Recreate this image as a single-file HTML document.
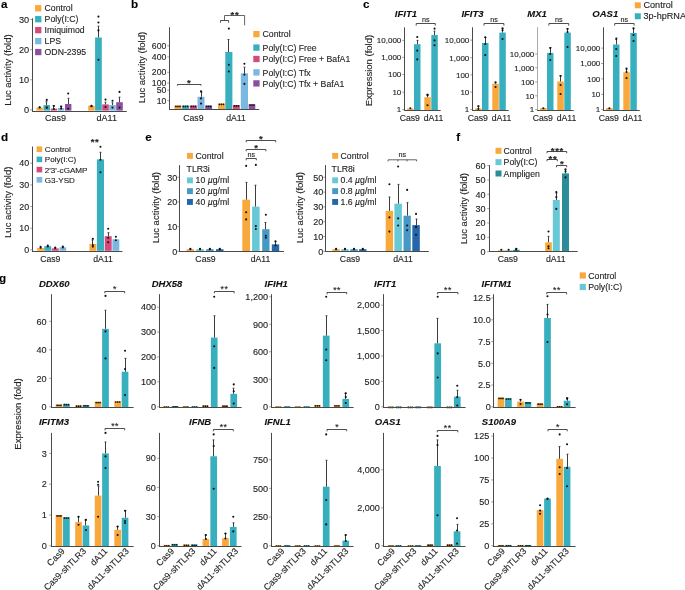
<!DOCTYPE html>
<html><head><meta charset="utf-8"><style>
html,body{margin:0;padding:0;background:#fff;}
svg{display:block;font-family:"Liberation Sans", sans-serif;will-change:transform;}
text{stroke:#222;stroke-width:0.12px;paint-order:stroke;}
</style></head><body>
<svg width="685" height="590" viewBox="0 0 685 590">
<rect width="685" height="590" fill="#fff"/>
<text x="1.10" y="8.00" font-size="11.7" text-anchor="start" font-weight="bold" font-style="normal" fill="#000">a</text>
<rect x="35.10" y="5.10" width="6.30" height="6.30" fill="#F9A93B"/>
<text x="44.60" y="11.40" font-size="8.7" text-anchor="start" font-weight="normal" font-style="normal" fill="#222">Control</text>
<rect x="35.10" y="16.05" width="6.30" height="6.30" fill="#38AFBF"/>
<text x="44.60" y="22.35" font-size="8.7" text-anchor="start" font-weight="normal" font-style="normal" fill="#222">Poly(I:C)</text>
<rect x="35.10" y="27.00" width="6.30" height="6.30" fill="#D44A7C"/>
<text x="44.60" y="33.30" font-size="8.7" text-anchor="start" font-weight="normal" font-style="normal" fill="#222">Imiquimod</text>
<rect x="35.10" y="37.95" width="6.30" height="6.30" fill="#7AB7E1"/>
<text x="44.60" y="44.25" font-size="8.7" text-anchor="start" font-weight="normal" font-style="normal" fill="#222">LPS</text>
<rect x="35.10" y="48.90" width="6.30" height="6.30" fill="#8A4F9F"/>
<text x="44.60" y="55.20" font-size="8.7" text-anchor="start" font-weight="normal" font-style="normal" fill="#222">ODN-2395</text>
<line x1="32.50" y1="18.30" x2="32.50" y2="112.00" stroke="#4a4a4a" stroke-width="1.0"/>
<line x1="30.20" y1="109.90" x2="32.00" y2="109.90" stroke="#888888" stroke-width="0.8"/>
<text x="29.20" y="113.19" font-size="9.2" text-anchor="end" font-weight="normal" font-style="normal" fill="#222">0</text>
<line x1="30.20" y1="79.77" x2="32.00" y2="79.77" stroke="#888888" stroke-width="0.8"/>
<text x="29.20" y="83.06" font-size="9.2" text-anchor="end" font-weight="normal" font-style="normal" fill="#222">10</text>
<line x1="30.20" y1="49.64" x2="32.00" y2="49.64" stroke="#888888" stroke-width="0.8"/>
<text x="29.20" y="52.93" font-size="9.2" text-anchor="end" font-weight="normal" font-style="normal" fill="#222">20</text>
<line x1="30.20" y1="19.51" x2="32.00" y2="19.51" stroke="#888888" stroke-width="0.8"/>
<text x="29.20" y="22.80" font-size="9.2" text-anchor="end" font-weight="normal" font-style="normal" fill="#222">30</text>
<text x="10.50" y="70.00" font-size="9.5" text-anchor="middle" font-weight="normal" font-style="normal" fill="#222" transform="rotate(-90 10.50 70.00)">Luc activity (fold)</text>
<rect x="36.40" y="107.60" width="6.50" height="3.00" fill="#F9A93B"/>
<circle cx="39.65" cy="107.30" r="1.05" fill="#111"/>
<circle cx="39.65" cy="107.50" r="1.05" fill="#111"/>
<rect x="43.50" y="105.00" width="6.50" height="5.60" fill="#38AFBF"/>
<line x1="46.50" y1="105.00" x2="46.50" y2="101.80" stroke="#333" stroke-width="0.95"/>
<line x1="45.60" y1="101.80" x2="47.40" y2="101.80" stroke="#333" stroke-width="0.95"/>
<circle cx="46.75" cy="99.90" r="1.05" fill="#111"/>
<circle cx="46.75" cy="107.40" r="1.05" fill="#111"/>
<circle cx="46.75" cy="107.70" r="1.05" fill="#111"/>
<rect x="50.70" y="108.60" width="6.40" height="2.00" fill="#D44A7C"/>
<line x1="53.50" y1="108.60" x2="53.50" y2="105.70" stroke="#333" stroke-width="0.95"/>
<line x1="52.60" y1="105.70" x2="54.40" y2="105.70" stroke="#333" stroke-width="0.95"/>
<circle cx="53.90" cy="106.00" r="1.05" fill="#111"/>
<circle cx="53.90" cy="109.00" r="1.05" fill="#111"/>
<rect x="57.80" y="108.00" width="6.50" height="2.60" fill="#7AB7E1"/>
<line x1="61.50" y1="108.00" x2="61.50" y2="106.30" stroke="#333" stroke-width="0.95"/>
<line x1="60.60" y1="106.30" x2="62.40" y2="106.30" stroke="#333" stroke-width="0.95"/>
<circle cx="61.05" cy="106.50" r="1.05" fill="#111"/>
<circle cx="61.05" cy="108.60" r="1.05" fill="#111"/>
<rect x="65.00" y="104.00" width="6.40" height="6.60" fill="#8A4F9F"/>
<line x1="68.50" y1="104.00" x2="68.50" y2="98.30" stroke="#333" stroke-width="0.95"/>
<line x1="67.60" y1="98.30" x2="69.40" y2="98.30" stroke="#333" stroke-width="0.95"/>
<circle cx="68.20" cy="93.50" r="1.05" fill="#111"/>
<circle cx="68.20" cy="108.80" r="1.05" fill="#111"/>
<rect x="88.20" y="105.70" width="6.50" height="4.90" fill="#F9A93B"/>
<circle cx="91.45" cy="105.90" r="1.05" fill="#111"/>
<circle cx="91.45" cy="106.20" r="1.05" fill="#111"/>
<rect x="95.10" y="37.50" width="6.70" height="73.10" fill="#38AFBF"/>
<line x1="98.50" y1="37.50" x2="98.50" y2="26.20" stroke="#333" stroke-width="0.95"/>
<line x1="97.60" y1="26.20" x2="99.40" y2="26.20" stroke="#333" stroke-width="0.95"/>
<circle cx="98.45" cy="16.60" r="1.05" fill="#111"/>
<circle cx="98.45" cy="22.50" r="1.05" fill="#111"/>
<circle cx="98.45" cy="30.40" r="1.05" fill="#111"/>
<circle cx="98.45" cy="59.70" r="1.05" fill="#111"/>
<rect x="102.20" y="104.40" width="6.60" height="6.20" fill="#D44A7C"/>
<line x1="105.50" y1="104.40" x2="105.50" y2="102.20" stroke="#333" stroke-width="0.95"/>
<line x1="104.60" y1="102.20" x2="106.40" y2="102.20" stroke="#333" stroke-width="0.95"/>
<circle cx="105.50" cy="99.60" r="1.05" fill="#111"/>
<circle cx="105.50" cy="107.00" r="1.05" fill="#111"/>
<rect x="109.20" y="105.00" width="6.60" height="5.60" fill="#7AB7E1"/>
<line x1="112.50" y1="105.00" x2="112.50" y2="102.80" stroke="#333" stroke-width="0.95"/>
<line x1="111.60" y1="102.80" x2="113.40" y2="102.80" stroke="#333" stroke-width="0.95"/>
<circle cx="112.50" cy="100.70" r="1.05" fill="#111"/>
<circle cx="112.50" cy="107.60" r="1.05" fill="#111"/>
<rect x="116.20" y="102.20" width="6.60" height="8.40" fill="#8A4F9F"/>
<line x1="119.50" y1="102.20" x2="119.50" y2="97.20" stroke="#333" stroke-width="0.95"/>
<line x1="118.60" y1="97.20" x2="120.40" y2="97.20" stroke="#333" stroke-width="0.95"/>
<circle cx="119.50" cy="91.90" r="1.05" fill="#111"/>
<circle cx="119.50" cy="107.60" r="1.05" fill="#111"/>
<line x1="32.00" y1="111.50" x2="126.80" y2="111.50" stroke="#4a4a4a" stroke-width="1.0"/>
<text x="55.60" y="121.20" font-size="9.0" text-anchor="middle" font-weight="normal" font-style="normal" fill="#222">Cas9</text>
<text x="106.80" y="121.20" font-size="9.0" text-anchor="middle" font-weight="normal" font-style="normal" fill="#222">dA11</text>
<text x="131.00" y="7.90" font-size="11.7" text-anchor="start" font-weight="bold" font-style="normal" fill="#000">b</text>
<line x1="169.50" y1="27.20" x2="169.50" y2="110.00" stroke="#4a4a4a" stroke-width="1.0"/>
<line x1="167.20" y1="100.60" x2="169.00" y2="100.60" stroke="#888888" stroke-width="0.8"/>
<text x="166.30" y="103.71" font-size="8.7" text-anchor="end" font-weight="normal" font-style="normal" fill="#222">10</text>
<line x1="167.20" y1="90.20" x2="169.00" y2="90.20" stroke="#888888" stroke-width="0.8"/>
<text x="166.30" y="93.31" font-size="8.7" text-anchor="end" font-weight="normal" font-style="normal" fill="#222">50</text>
<line x1="167.20" y1="83.00" x2="169.00" y2="83.00" stroke="#888888" stroke-width="0.8"/>
<text x="166.30" y="86.11" font-size="8.7" text-anchor="end" font-weight="normal" font-style="normal" fill="#222">100</text>
<line x1="167.20" y1="72.30" x2="169.00" y2="72.30" stroke="#888888" stroke-width="0.8"/>
<text x="166.30" y="75.41" font-size="8.7" text-anchor="end" font-weight="normal" font-style="normal" fill="#222">200</text>
<line x1="167.20" y1="57.00" x2="169.00" y2="57.00" stroke="#888888" stroke-width="0.8"/>
<text x="166.30" y="60.11" font-size="8.7" text-anchor="end" font-weight="normal" font-style="normal" fill="#222">400</text>
<line x1="167.20" y1="45.80" x2="169.00" y2="45.80" stroke="#888888" stroke-width="0.8"/>
<text x="166.30" y="48.91" font-size="8.7" text-anchor="end" font-weight="normal" font-style="normal" fill="#222">600</text>
<text x="145.00" y="67.50" font-size="9.5" text-anchor="middle" font-weight="normal" font-style="normal" fill="#222" transform="rotate(-90 145.00 67.50)">Luc activity (fold)</text>
<rect x="174.40" y="105.50" width="7.10" height="3.50" fill="#F9A93B"/>
<circle cx="175.92" cy="106.40" r="0.85" fill="#111"/>
<circle cx="177.95" cy="106.40" r="0.85" fill="#111"/>
<circle cx="179.97" cy="106.40" r="0.85" fill="#111"/>
<rect x="182.00" y="105.50" width="7.10" height="3.50" fill="#38AFBF"/>
<circle cx="183.53" cy="106.40" r="0.85" fill="#111"/>
<circle cx="185.55" cy="106.40" r="0.85" fill="#111"/>
<circle cx="187.58" cy="106.40" r="0.85" fill="#111"/>
<rect x="189.80" y="105.50" width="7.10" height="3.50" fill="#D44A7C"/>
<circle cx="191.32" cy="106.40" r="0.85" fill="#111"/>
<circle cx="193.35" cy="106.40" r="0.85" fill="#111"/>
<circle cx="195.38" cy="106.40" r="0.85" fill="#111"/>
<rect x="197.50" y="96.80" width="7.00" height="12.20" fill="#7AB7E1"/>
<line x1="201.50" y1="96.80" x2="201.50" y2="92.00" stroke="#333" stroke-width="0.95"/>
<line x1="200.60" y1="92.00" x2="202.40" y2="92.00" stroke="#333" stroke-width="0.95"/>
<circle cx="201.00" cy="91.40" r="1.05" fill="#111"/>
<circle cx="201.00" cy="98.40" r="1.05" fill="#111"/>
<circle cx="201.00" cy="103.60" r="1.05" fill="#111"/>
<rect x="205.20" y="105.50" width="6.90" height="3.50" fill="#8A4F9F"/>
<circle cx="206.68" cy="106.40" r="0.85" fill="#111"/>
<circle cx="208.65" cy="106.40" r="0.85" fill="#111"/>
<circle cx="210.62" cy="106.40" r="0.85" fill="#111"/>
<rect x="218.00" y="103.40" width="6.90" height="5.60" fill="#F9A93B"/>
<circle cx="219.48" cy="104.30" r="0.85" fill="#111"/>
<circle cx="221.45" cy="104.30" r="0.85" fill="#111"/>
<circle cx="223.42" cy="104.30" r="0.85" fill="#111"/>
<rect x="225.30" y="52.00" width="7.10" height="57.00" fill="#38AFBF"/>
<line x1="228.50" y1="52.00" x2="228.50" y2="39.50" stroke="#333" stroke-width="0.95"/>
<line x1="227.60" y1="39.50" x2="229.40" y2="39.50" stroke="#333" stroke-width="0.95"/>
<circle cx="228.85" cy="28.60" r="1.05" fill="#111"/>
<circle cx="228.85" cy="64.80" r="1.05" fill="#111"/>
<circle cx="228.85" cy="71.50" r="1.05" fill="#111"/>
<rect x="233.00" y="105.00" width="6.80" height="4.00" fill="#D44A7C"/>
<circle cx="234.46" cy="105.90" r="0.85" fill="#111"/>
<circle cx="236.40" cy="105.90" r="0.85" fill="#111"/>
<circle cx="238.34" cy="105.90" r="0.85" fill="#111"/>
<rect x="240.80" y="73.30" width="7.20" height="35.70" fill="#7AB7E1"/>
<line x1="244.50" y1="73.30" x2="244.50" y2="67.20" stroke="#333" stroke-width="0.95"/>
<line x1="243.60" y1="67.20" x2="245.40" y2="67.20" stroke="#333" stroke-width="0.95"/>
<circle cx="244.40" cy="63.70" r="1.05" fill="#111"/>
<circle cx="244.40" cy="74.60" r="1.05" fill="#111"/>
<circle cx="244.40" cy="83.90" r="1.05" fill="#111"/>
<rect x="248.60" y="104.20" width="6.70" height="4.80" fill="#8A4F9F"/>
<circle cx="250.03" cy="105.10" r="0.85" fill="#111"/>
<circle cx="251.95" cy="105.10" r="0.85" fill="#111"/>
<circle cx="253.87" cy="105.10" r="0.85" fill="#111"/>
<line x1="169.00" y1="109.50" x2="259.20" y2="109.50" stroke="#4a4a4a" stroke-width="1.0"/>
<text x="193.40" y="121.40" font-size="8.7" text-anchor="middle" font-weight="normal" font-style="normal" fill="#222">Cas9</text>
<text x="236.00" y="121.40" font-size="8.7" text-anchor="middle" font-weight="normal" font-style="normal" fill="#222">dA11</text>
<polyline points="177.40,85.70 177.40,84.50 201.00,84.50 201.00,85.70" fill="none" stroke="#3a3a3a" stroke-width="0.9"/>
<text x="188.80" y="86.34" font-size="9.5" text-anchor="middle" font-weight="bold" font-style="normal" fill="#1a1a1a">*</text>
<polyline points="220.50,22.70 220.50,20.50 228.60,20.50 228.60,22.70" fill="none" stroke="#3a3a3a" stroke-width="0.9"/>
<polyline points="224.50,20.30 224.50,15.50 244.60,15.50 244.60,25.30" fill="none" stroke="#333" stroke-width="0.75"/>
<text x="234.90" y="18.24" font-size="9.5" text-anchor="middle" font-weight="bold" font-style="normal" fill="#1a1a1a" letter-spacing="0.6">**</text>
<rect x="253.30" y="30.95" width="6.30" height="6.30" fill="#F9A93B"/>
<text x="262.60" y="37.20" font-size="8.7" text-anchor="start" font-weight="normal" font-style="normal" fill="#222">Control</text>
<rect x="253.30" y="44.45" width="6.30" height="6.30" fill="#38AFBF"/>
<text x="262.60" y="50.70" font-size="8.7" text-anchor="start" font-weight="normal" font-style="normal" fill="#222">Poly(I:C) Free</text>
<rect x="253.30" y="55.85" width="6.30" height="6.30" fill="#D44A7C"/>
<text x="262.60" y="62.10" font-size="8.7" text-anchor="start" font-weight="normal" font-style="normal" fill="#222">Poly(I:C) Free + BafA1</text>
<rect x="253.30" y="69.25" width="6.30" height="6.30" fill="#7AB7E1"/>
<text x="262.60" y="75.50" font-size="8.7" text-anchor="start" font-weight="normal" font-style="normal" fill="#222">Poly(I:C) Tfx</text>
<rect x="253.30" y="80.25" width="6.30" height="6.30" fill="#8A4F9F"/>
<text x="262.60" y="86.50" font-size="8.7" text-anchor="start" font-weight="normal" font-style="normal" fill="#222">Poly(I:C) Tfx + BafA1</text>
<text x="362.90" y="7.90" font-size="11.7" text-anchor="start" font-weight="bold" font-style="normal" fill="#000">c</text>
<text x="372.10" y="70.50" font-size="9.5" text-anchor="middle" font-weight="normal" font-style="normal" fill="#222" transform="rotate(-90 372.10 70.50)">Expression (fold)</text>
<line x1="404.50" y1="27.30" x2="404.50" y2="111.00" stroke="#4a4a4a" stroke-width="1.0"/>
<line x1="402.20" y1="109.50" x2="404.00" y2="109.50" stroke="#888888" stroke-width="0.8"/>
<text x="401.30" y="112.36" font-size="8.0" text-anchor="end" font-weight="normal" font-style="normal" fill="#222">1</text>
<line x1="402.20" y1="92.20" x2="404.00" y2="92.20" stroke="#888888" stroke-width="0.8"/>
<text x="401.30" y="95.06" font-size="8.0" text-anchor="end" font-weight="normal" font-style="normal" fill="#222">10</text>
<line x1="402.20" y1="74.50" x2="404.00" y2="74.50" stroke="#888888" stroke-width="0.8"/>
<text x="401.30" y="77.36" font-size="8.0" text-anchor="end" font-weight="normal" font-style="normal" fill="#222">100</text>
<line x1="402.20" y1="57.40" x2="404.00" y2="57.40" stroke="#888888" stroke-width="0.8"/>
<text x="401.30" y="60.26" font-size="8.0" text-anchor="end" font-weight="normal" font-style="normal" fill="#222">1,000</text>
<line x1="402.20" y1="40.40" x2="404.00" y2="40.40" stroke="#888888" stroke-width="0.8"/>
<text x="401.30" y="43.26" font-size="8.0" text-anchor="end" font-weight="normal" font-style="normal" fill="#222">10,000</text>
<rect x="407.10" y="108.60" width="6.50" height="1.60" fill="#F9A93B"/>
<circle cx="410.35" cy="108.20" r="1.05" fill="#111"/>
<rect x="414.00" y="44.20" width="6.50" height="66.00" fill="#38AFBF"/>
<line x1="417.50" y1="44.20" x2="417.50" y2="40.40" stroke="#333" stroke-width="0.95"/>
<line x1="416.60" y1="40.40" x2="418.40" y2="40.40" stroke="#333" stroke-width="0.95"/>
<circle cx="417.25" cy="37.00" r="1.05" fill="#111"/>
<circle cx="417.25" cy="50.60" r="1.05" fill="#111"/>
<circle cx="417.25" cy="59.40" r="1.05" fill="#111"/>
<rect x="424.30" y="97.20" width="6.50" height="13.00" fill="#F9A93B"/>
<line x1="427.50" y1="97.20" x2="427.50" y2="94.30" stroke="#333" stroke-width="0.95"/>
<line x1="426.60" y1="94.30" x2="428.40" y2="94.30" stroke="#333" stroke-width="0.95"/>
<circle cx="427.55" cy="94.70" r="1.05" fill="#111"/>
<circle cx="427.55" cy="95.30" r="1.05" fill="#111"/>
<circle cx="427.55" cy="105.20" r="1.05" fill="#111"/>
<rect x="431.30" y="35.00" width="6.50" height="75.20" fill="#38AFBF"/>
<line x1="434.50" y1="35.00" x2="434.50" y2="31.10" stroke="#333" stroke-width="0.95"/>
<line x1="433.60" y1="31.10" x2="435.40" y2="31.10" stroke="#333" stroke-width="0.95"/>
<circle cx="434.55" cy="28.60" r="1.05" fill="#111"/>
<circle cx="434.55" cy="40.40" r="1.05" fill="#111"/>
<circle cx="434.55" cy="45.20" r="1.05" fill="#111"/>
<line x1="404.00" y1="110.50" x2="440.70" y2="110.50" stroke="#4a4a4a" stroke-width="1.0"/>
<text x="405.90" y="17.20" font-size="9.5" text-anchor="middle" font-weight="bold" font-style="italic" fill="#111">IFIT1</text>
<polyline points="416.20,25.60 416.20,23.50 435.30,23.50 435.30,25.60" fill="none" stroke="#3a3a3a" stroke-width="0.9"/>
<text x="425.75" y="22.10" font-size="7.2" text-anchor="middle" font-weight="normal" font-style="normal" fill="#222">ns</text>
<text x="409.80" y="121.40" font-size="8.7" text-anchor="middle" font-weight="normal" font-style="normal" fill="#222">Cas9</text>
<text x="433.50" y="121.40" font-size="8.7" text-anchor="middle" font-weight="normal" font-style="normal" fill="#222">dA11</text>
<line x1="472.50" y1="27.30" x2="472.50" y2="111.00" stroke="#4a4a4a" stroke-width="1.0"/>
<line x1="470.20" y1="109.50" x2="472.00" y2="109.50" stroke="#888888" stroke-width="0.8"/>
<text x="469.30" y="112.36" font-size="8.0" text-anchor="end" font-weight="normal" font-style="normal" fill="#222">1</text>
<line x1="470.20" y1="92.10" x2="472.00" y2="92.10" stroke="#888888" stroke-width="0.8"/>
<text x="469.30" y="94.96" font-size="8.0" text-anchor="end" font-weight="normal" font-style="normal" fill="#222">10</text>
<line x1="470.20" y1="74.90" x2="472.00" y2="74.90" stroke="#888888" stroke-width="0.8"/>
<text x="469.30" y="77.76" font-size="8.0" text-anchor="end" font-weight="normal" font-style="normal" fill="#222">100</text>
<line x1="470.20" y1="57.70" x2="472.00" y2="57.70" stroke="#888888" stroke-width="0.8"/>
<text x="469.30" y="60.56" font-size="8.0" text-anchor="end" font-weight="normal" font-style="normal" fill="#222">1,000</text>
<line x1="470.20" y1="40.10" x2="472.00" y2="40.10" stroke="#888888" stroke-width="0.8"/>
<text x="469.30" y="42.96" font-size="8.0" text-anchor="end" font-weight="normal" font-style="normal" fill="#222">10,000</text>
<rect x="475.10" y="108.40" width="6.50" height="1.80" fill="#F9A93B"/>
<line x1="478.50" y1="108.40" x2="478.50" y2="106.00" stroke="#333" stroke-width="0.95"/>
<line x1="477.60" y1="106.00" x2="479.40" y2="106.00" stroke="#333" stroke-width="0.95"/>
<circle cx="478.35" cy="106.20" r="1.05" fill="#111"/>
<circle cx="478.35" cy="109.00" r="1.05" fill="#111"/>
<rect x="482.00" y="43.00" width="6.50" height="67.20" fill="#38AFBF"/>
<line x1="485.50" y1="43.00" x2="485.50" y2="37.50" stroke="#333" stroke-width="0.95"/>
<line x1="484.60" y1="37.50" x2="486.40" y2="37.50" stroke="#333" stroke-width="0.95"/>
<circle cx="485.25" cy="37.20" r="1.05" fill="#111"/>
<circle cx="485.25" cy="44.00" r="1.05" fill="#111"/>
<circle cx="485.25" cy="55.00" r="1.05" fill="#111"/>
<rect x="492.30" y="83.70" width="6.50" height="26.50" fill="#F9A93B"/>
<line x1="495.50" y1="83.70" x2="495.50" y2="82.00" stroke="#333" stroke-width="0.95"/>
<line x1="494.60" y1="82.00" x2="496.40" y2="82.00" stroke="#333" stroke-width="0.95"/>
<circle cx="495.55" cy="82.50" r="1.05" fill="#111"/>
<circle cx="495.55" cy="87.00" r="1.05" fill="#111"/>
<rect x="499.30" y="32.60" width="6.50" height="77.60" fill="#38AFBF"/>
<line x1="502.50" y1="32.60" x2="502.50" y2="28.00" stroke="#333" stroke-width="0.95"/>
<line x1="501.60" y1="28.00" x2="503.40" y2="28.00" stroke="#333" stroke-width="0.95"/>
<circle cx="502.55" cy="28.50" r="1.05" fill="#111"/>
<circle cx="502.55" cy="30.20" r="1.05" fill="#111"/>
<circle cx="502.55" cy="39.00" r="1.05" fill="#111"/>
<line x1="472.00" y1="110.50" x2="508.70" y2="110.50" stroke="#4a4a4a" stroke-width="1.0"/>
<text x="472.50" y="17.20" font-size="9.5" text-anchor="middle" font-weight="bold" font-style="italic" fill="#111">IFIT3</text>
<polyline points="484.00,25.60 484.00,23.50 503.90,23.50 503.90,25.60" fill="none" stroke="#3a3a3a" stroke-width="0.9"/>
<text x="493.95" y="22.10" font-size="7.2" text-anchor="middle" font-weight="normal" font-style="normal" fill="#222">ns</text>
<text x="477.80" y="121.40" font-size="8.7" text-anchor="middle" font-weight="normal" font-style="normal" fill="#222">Cas9</text>
<text x="501.50" y="121.40" font-size="8.7" text-anchor="middle" font-weight="normal" font-style="normal" fill="#222">dA11</text>
<line x1="537.50" y1="27.30" x2="537.50" y2="111.00" stroke="#aaaaaa" stroke-width="1.0"/>
<line x1="535.20" y1="109.50" x2="537.00" y2="109.50" stroke="#888888" stroke-width="0.8"/>
<text x="534.30" y="112.36" font-size="8.0" text-anchor="end" font-weight="normal" font-style="normal" fill="#222">1</text>
<line x1="535.20" y1="95.80" x2="537.00" y2="95.80" stroke="#888888" stroke-width="0.8"/>
<text x="534.30" y="98.66" font-size="8.0" text-anchor="end" font-weight="normal" font-style="normal" fill="#222">10</text>
<line x1="535.20" y1="82.00" x2="537.00" y2="82.00" stroke="#888888" stroke-width="0.8"/>
<text x="534.30" y="84.86" font-size="8.0" text-anchor="end" font-weight="normal" font-style="normal" fill="#222">100</text>
<line x1="535.20" y1="67.80" x2="537.00" y2="67.80" stroke="#888888" stroke-width="0.8"/>
<text x="534.30" y="70.66" font-size="8.0" text-anchor="end" font-weight="normal" font-style="normal" fill="#222">1,000</text>
<line x1="535.20" y1="54.00" x2="537.00" y2="54.00" stroke="#888888" stroke-width="0.8"/>
<text x="534.30" y="56.86" font-size="8.0" text-anchor="end" font-weight="normal" font-style="normal" fill="#222">10,000</text>
<rect x="540.10" y="108.00" width="6.50" height="2.20" fill="#F9A93B"/>
<circle cx="543.35" cy="108.20" r="1.05" fill="#111"/>
<rect x="547.00" y="52.90" width="6.50" height="57.30" fill="#38AFBF"/>
<line x1="550.50" y1="52.90" x2="550.50" y2="47.50" stroke="#333" stroke-width="0.95"/>
<line x1="549.60" y1="47.50" x2="551.40" y2="47.50" stroke="#333" stroke-width="0.95"/>
<circle cx="550.25" cy="48.00" r="1.05" fill="#111"/>
<circle cx="550.25" cy="54.00" r="1.05" fill="#111"/>
<circle cx="550.25" cy="60.00" r="1.05" fill="#111"/>
<rect x="557.30" y="81.50" width="6.50" height="28.70" fill="#F9A93B"/>
<line x1="560.50" y1="81.50" x2="560.50" y2="75.50" stroke="#333" stroke-width="0.95"/>
<line x1="559.60" y1="75.50" x2="561.40" y2="75.50" stroke="#333" stroke-width="0.95"/>
<circle cx="560.55" cy="76.00" r="1.05" fill="#111"/>
<circle cx="560.55" cy="85.00" r="1.05" fill="#111"/>
<circle cx="560.55" cy="94.00" r="1.05" fill="#111"/>
<rect x="564.30" y="32.60" width="6.50" height="77.60" fill="#38AFBF"/>
<line x1="567.50" y1="32.60" x2="567.50" y2="28.50" stroke="#333" stroke-width="0.95"/>
<line x1="566.60" y1="28.50" x2="568.40" y2="28.50" stroke="#333" stroke-width="0.95"/>
<circle cx="567.55" cy="29.00" r="1.05" fill="#111"/>
<circle cx="567.55" cy="32.00" r="1.05" fill="#111"/>
<circle cx="567.55" cy="47.00" r="1.05" fill="#111"/>
<line x1="537.00" y1="110.50" x2="573.70" y2="110.50" stroke="#4a4a4a" stroke-width="1.0"/>
<text x="537.00" y="17.20" font-size="9.5" text-anchor="middle" font-weight="bold" font-style="italic" fill="#111">MX1</text>
<polyline points="548.90,25.60 548.90,23.50 568.70,23.50 568.70,25.60" fill="none" stroke="#3a3a3a" stroke-width="0.9"/>
<text x="558.80" y="22.10" font-size="7.2" text-anchor="middle" font-weight="normal" font-style="normal" fill="#222">ns</text>
<text x="542.80" y="121.40" font-size="8.7" text-anchor="middle" font-weight="normal" font-style="normal" fill="#222">Cas9</text>
<text x="566.50" y="121.40" font-size="8.7" text-anchor="middle" font-weight="normal" font-style="normal" fill="#222">dA11</text>
<line x1="603.50" y1="27.30" x2="603.50" y2="111.00" stroke="#4a4a4a" stroke-width="1.0"/>
<line x1="601.20" y1="109.60" x2="603.00" y2="109.60" stroke="#888888" stroke-width="0.8"/>
<text x="600.30" y="112.46" font-size="8.0" text-anchor="end" font-weight="normal" font-style="normal" fill="#222">1</text>
<line x1="601.20" y1="94.40" x2="603.00" y2="94.40" stroke="#888888" stroke-width="0.8"/>
<text x="600.30" y="97.26" font-size="8.0" text-anchor="end" font-weight="normal" font-style="normal" fill="#222">10</text>
<line x1="601.20" y1="78.90" x2="603.00" y2="78.90" stroke="#888888" stroke-width="0.8"/>
<text x="600.30" y="81.76" font-size="8.0" text-anchor="end" font-weight="normal" font-style="normal" fill="#222">100</text>
<line x1="601.20" y1="63.50" x2="603.00" y2="63.50" stroke="#888888" stroke-width="0.8"/>
<text x="600.30" y="66.36" font-size="8.0" text-anchor="end" font-weight="normal" font-style="normal" fill="#222">1,000</text>
<line x1="601.20" y1="48.10" x2="603.00" y2="48.10" stroke="#888888" stroke-width="0.8"/>
<text x="600.30" y="50.96" font-size="8.0" text-anchor="end" font-weight="normal" font-style="normal" fill="#222">10,000</text>
<rect x="606.10" y="108.00" width="6.50" height="2.20" fill="#F9A93B"/>
<circle cx="609.35" cy="108.20" r="1.05" fill="#111"/>
<rect x="613.00" y="44.50" width="6.50" height="65.70" fill="#38AFBF"/>
<line x1="616.50" y1="44.50" x2="616.50" y2="38.00" stroke="#333" stroke-width="0.95"/>
<line x1="615.60" y1="38.00" x2="617.40" y2="38.00" stroke="#333" stroke-width="0.95"/>
<circle cx="616.25" cy="39.00" r="1.05" fill="#111"/>
<circle cx="616.25" cy="49.00" r="1.05" fill="#111"/>
<circle cx="616.25" cy="56.00" r="1.05" fill="#111"/>
<rect x="623.30" y="72.30" width="6.50" height="37.90" fill="#F9A93B"/>
<line x1="626.50" y1="72.30" x2="626.50" y2="68.00" stroke="#333" stroke-width="0.95"/>
<line x1="625.60" y1="68.00" x2="627.40" y2="68.00" stroke="#333" stroke-width="0.95"/>
<circle cx="626.55" cy="69.00" r="1.05" fill="#111"/>
<circle cx="626.55" cy="72.00" r="1.05" fill="#111"/>
<circle cx="626.55" cy="78.00" r="1.05" fill="#111"/>
<rect x="630.30" y="33.00" width="6.50" height="77.20" fill="#38AFBF"/>
<line x1="633.50" y1="33.00" x2="633.50" y2="28.00" stroke="#333" stroke-width="0.95"/>
<line x1="632.60" y1="28.00" x2="634.40" y2="28.00" stroke="#333" stroke-width="0.95"/>
<circle cx="633.55" cy="28.50" r="1.05" fill="#111"/>
<circle cx="633.55" cy="35.00" r="1.05" fill="#111"/>
<circle cx="633.55" cy="41.00" r="1.05" fill="#111"/>
<line x1="603.00" y1="110.50" x2="639.70" y2="110.50" stroke="#4a4a4a" stroke-width="1.0"/>
<text x="605.30" y="17.20" font-size="9.5" text-anchor="middle" font-weight="bold" font-style="italic" fill="#111">OAS1</text>
<polyline points="614.70,25.60 614.70,23.50 634.10,23.50 634.10,25.60" fill="none" stroke="#3a3a3a" stroke-width="0.9"/>
<text x="624.40" y="22.10" font-size="7.2" text-anchor="middle" font-weight="normal" font-style="normal" fill="#222">ns</text>
<text x="608.80" y="121.40" font-size="8.7" text-anchor="middle" font-weight="normal" font-style="normal" fill="#222">Cas9</text>
<text x="632.50" y="121.40" font-size="8.7" text-anchor="middle" font-weight="normal" font-style="normal" fill="#222">dA11</text>
<rect x="634.80" y="2.30" width="6.00" height="6.00" fill="#F9A93B"/>
<text x="643.50" y="8.40" font-size="9.1" text-anchor="start" font-weight="normal" font-style="normal" fill="#222">Control</text>
<rect x="634.80" y="13.30" width="6.00" height="6.00" fill="#38AFBF"/>
<text x="643.50" y="19.40" font-size="9.1" text-anchor="start" font-weight="normal" font-style="normal" fill="#222">3p-hpRNA</text>
<text x="1.00" y="140.70" font-size="11.7" text-anchor="start" font-weight="bold" font-style="normal" fill="#000">d</text>
<line x1="32.50" y1="146.50" x2="32.50" y2="252.00" stroke="#4a4a4a" stroke-width="1.0"/>
<line x1="30.20" y1="249.90" x2="32.00" y2="249.90" stroke="#888888" stroke-width="0.8"/>
<text x="29.20" y="253.09" font-size="8.9" text-anchor="end" font-weight="normal" font-style="normal" fill="#222">0</text>
<line x1="30.20" y1="228.22" x2="32.00" y2="228.22" stroke="#888888" stroke-width="0.8"/>
<text x="29.20" y="231.41" font-size="8.9" text-anchor="end" font-weight="normal" font-style="normal" fill="#222">10</text>
<line x1="30.20" y1="206.55" x2="32.00" y2="206.55" stroke="#888888" stroke-width="0.8"/>
<text x="29.20" y="209.74" font-size="8.9" text-anchor="end" font-weight="normal" font-style="normal" fill="#222">20</text>
<line x1="30.20" y1="184.88" x2="32.00" y2="184.88" stroke="#888888" stroke-width="0.8"/>
<text x="29.20" y="188.06" font-size="8.9" text-anchor="end" font-weight="normal" font-style="normal" fill="#222">30</text>
<line x1="30.20" y1="163.20" x2="32.00" y2="163.20" stroke="#888888" stroke-width="0.8"/>
<text x="29.20" y="166.39" font-size="8.9" text-anchor="end" font-weight="normal" font-style="normal" fill="#222">40</text>
<text x="10.70" y="202.30" font-size="9.5" text-anchor="middle" font-weight="normal" font-style="normal" fill="#222" transform="rotate(-90 10.70 202.30)">Luc activity (fold)</text>
<rect x="37.20" y="248.00" width="6.80" height="2.80" fill="#F9A93B"/>
<circle cx="40.60" cy="246.80" r="1.05" fill="#111"/>
<circle cx="40.60" cy="247.80" r="1.05" fill="#111"/>
<rect x="44.30" y="246.20" width="6.90" height="4.60" fill="#38AFBF"/>
<circle cx="47.75" cy="245.50" r="1.05" fill="#111"/>
<circle cx="47.75" cy="246.50" r="1.05" fill="#111"/>
<rect x="51.80" y="248.40" width="6.90" height="2.40" fill="#D44A7C"/>
<circle cx="55.25" cy="247.50" r="1.05" fill="#111"/>
<circle cx="55.25" cy="248.30" r="1.05" fill="#111"/>
<rect x="59.40" y="247.30" width="6.80" height="3.50" fill="#7AB7E1"/>
<circle cx="62.80" cy="246.50" r="1.05" fill="#111"/>
<circle cx="62.80" cy="247.50" r="1.05" fill="#111"/>
<rect x="89.40" y="244.00" width="6.90" height="6.80" fill="#F9A93B"/>
<line x1="92.50" y1="244.00" x2="92.50" y2="239.90" stroke="#333" stroke-width="0.95"/>
<line x1="91.60" y1="239.90" x2="93.40" y2="239.90" stroke="#333" stroke-width="0.95"/>
<circle cx="92.85" cy="238.80" r="1.05" fill="#111"/>
<circle cx="92.85" cy="245.00" r="1.05" fill="#111"/>
<circle cx="92.85" cy="246.60" r="1.05" fill="#111"/>
<rect x="96.90" y="159.40" width="7.10" height="91.40" fill="#38AFBF"/>
<line x1="100.50" y1="159.40" x2="100.50" y2="152.30" stroke="#333" stroke-width="0.95"/>
<line x1="99.60" y1="152.30" x2="101.40" y2="152.30" stroke="#333" stroke-width="0.95"/>
<circle cx="100.45" cy="146.80" r="1.05" fill="#111"/>
<circle cx="100.45" cy="159.80" r="1.05" fill="#111"/>
<circle cx="100.45" cy="172.30" r="1.05" fill="#111"/>
<rect x="104.70" y="236.20" width="7.00" height="14.60" fill="#D44A7C"/>
<line x1="108.50" y1="236.20" x2="108.50" y2="232.70" stroke="#333" stroke-width="0.95"/>
<line x1="107.60" y1="232.70" x2="109.40" y2="232.70" stroke="#333" stroke-width="0.95"/>
<circle cx="108.20" cy="228.70" r="1.05" fill="#111"/>
<circle cx="108.20" cy="237.80" r="1.05" fill="#111"/>
<circle cx="108.20" cy="242.30" r="1.05" fill="#111"/>
<rect x="112.40" y="239.30" width="6.90" height="11.50" fill="#7AB7E1"/>
<circle cx="115.85" cy="236.80" r="1.05" fill="#111"/>
<circle cx="115.85" cy="240.30" r="1.05" fill="#111"/>
<line x1="32.00" y1="251.50" x2="122.40" y2="251.50" stroke="#4a4a4a" stroke-width="1.0"/>
<text x="50.30" y="262.00" font-size="8.7" text-anchor="middle" font-weight="normal" font-style="normal" fill="#222">Cas9</text>
<text x="103.00" y="262.00" font-size="8.7" text-anchor="middle" font-weight="normal" font-style="normal" fill="#222">dA11</text>
<text x="95.10" y="145.04" font-size="9.5" text-anchor="middle" font-weight="bold" font-style="normal" fill="#1a1a1a" letter-spacing="0.6">**</text>
<rect x="36.60" y="146.40" width="5.60" height="5.60" fill="#F9A93B"/>
<text x="44.80" y="152.10" font-size="8.1" text-anchor="start" font-weight="normal" font-style="normal" fill="#222">Control</text>
<rect x="36.60" y="156.60" width="5.60" height="5.60" fill="#38AFBF"/>
<text x="44.80" y="162.30" font-size="8.1" text-anchor="start" font-weight="normal" font-style="normal" fill="#222">Poly(I:C)</text>
<rect x="36.60" y="166.80" width="5.60" height="5.60" fill="#D44A7C"/>
<text x="44.80" y="172.50" font-size="8.1" text-anchor="start" font-weight="normal" font-style="normal" fill="#222">2'3'-cGAMP</text>
<rect x="36.60" y="177.00" width="5.60" height="5.60" fill="#7AB7E1"/>
<text x="44.80" y="182.70" font-size="8.1" text-anchor="start" font-weight="normal" font-style="normal" fill="#222">G3-YSD</text>
<text x="145.20" y="140.50" font-size="11.7" text-anchor="start" font-weight="bold" font-style="normal" fill="#000">e</text>
<line x1="179.50" y1="165.10" x2="179.50" y2="252.00" stroke="#4a4a4a" stroke-width="1.0"/>
<line x1="177.20" y1="251.30" x2="179.00" y2="251.30" stroke="#888888" stroke-width="0.8"/>
<text x="177.20" y="254.52" font-size="9.0" text-anchor="end" font-weight="normal" font-style="normal" fill="#222">0</text>
<line x1="177.20" y1="226.63" x2="179.00" y2="226.63" stroke="#888888" stroke-width="0.8"/>
<text x="177.20" y="229.85" font-size="9.0" text-anchor="end" font-weight="normal" font-style="normal" fill="#222">10</text>
<line x1="177.20" y1="201.96" x2="179.00" y2="201.96" stroke="#888888" stroke-width="0.8"/>
<text x="177.20" y="205.18" font-size="9.0" text-anchor="end" font-weight="normal" font-style="normal" fill="#222">20</text>
<line x1="177.20" y1="177.29" x2="179.00" y2="177.29" stroke="#888888" stroke-width="0.8"/>
<text x="177.20" y="180.51" font-size="9.0" text-anchor="end" font-weight="normal" font-style="normal" fill="#222">30</text>
<text x="159.20" y="207.70" font-size="9.5" text-anchor="middle" font-weight="normal" font-style="normal" fill="#222" transform="rotate(-90 159.20 207.70)">Luc activity (fold)</text>
<rect x="186.60" y="249.20" width="7.50" height="1.80" fill="#F9A93B"/>
<circle cx="190.35" cy="248.70" r="1.05" fill="#111"/>
<circle cx="190.35" cy="249.20" r="1.05" fill="#111"/>
<rect x="196.30" y="249.20" width="7.50" height="1.80" fill="#68C8D5"/>
<circle cx="200.05" cy="248.70" r="1.05" fill="#111"/>
<circle cx="200.05" cy="249.20" r="1.05" fill="#111"/>
<rect x="206.10" y="249.20" width="7.50" height="1.80" fill="#4599C4"/>
<circle cx="209.85" cy="248.70" r="1.05" fill="#111"/>
<circle cx="209.85" cy="249.20" r="1.05" fill="#111"/>
<rect x="216.00" y="249.20" width="7.50" height="1.80" fill="#2466AA"/>
<circle cx="219.75" cy="248.70" r="1.05" fill="#111"/>
<circle cx="219.75" cy="249.20" r="1.05" fill="#111"/>
<rect x="242.30" y="199.70" width="7.70" height="51.30" fill="#F9A93B"/>
<line x1="246.50" y1="199.70" x2="246.50" y2="182.40" stroke="#333" stroke-width="0.95"/>
<line x1="245.60" y1="182.40" x2="247.40" y2="182.40" stroke="#333" stroke-width="0.95"/>
<circle cx="246.15" cy="165.90" r="1.05" fill="#111"/>
<circle cx="246.15" cy="212.30" r="1.05" fill="#111"/>
<circle cx="246.15" cy="219.40" r="1.05" fill="#111"/>
<rect x="252.10" y="206.60" width="7.50" height="44.40" fill="#68C8D5"/>
<line x1="255.50" y1="206.60" x2="255.50" y2="185.20" stroke="#333" stroke-width="0.95"/>
<line x1="254.60" y1="185.20" x2="256.40" y2="185.20" stroke="#333" stroke-width="0.95"/>
<circle cx="255.85" cy="164.90" r="1.05" fill="#111"/>
<circle cx="255.85" cy="226.10" r="1.05" fill="#111"/>
<circle cx="255.85" cy="229.00" r="1.05" fill="#111"/>
<rect x="262.20" y="229.20" width="7.30" height="21.80" fill="#4599C4"/>
<line x1="265.50" y1="229.20" x2="265.50" y2="222.50" stroke="#333" stroke-width="0.95"/>
<line x1="264.60" y1="222.50" x2="266.40" y2="222.50" stroke="#333" stroke-width="0.95"/>
<circle cx="265.85" cy="214.70" r="1.05" fill="#111"/>
<circle cx="265.85" cy="235.70" r="1.05" fill="#111"/>
<circle cx="265.85" cy="237.70" r="1.05" fill="#111"/>
<rect x="271.80" y="244.40" width="7.40" height="6.60" fill="#2466AA"/>
<line x1="275.50" y1="244.40" x2="275.50" y2="241.80" stroke="#333" stroke-width="0.95"/>
<line x1="274.60" y1="241.80" x2="276.40" y2="241.80" stroke="#333" stroke-width="0.95"/>
<circle cx="275.50" cy="241.20" r="1.05" fill="#111"/>
<circle cx="275.50" cy="245.20" r="1.05" fill="#111"/>
<line x1="179.00" y1="251.50" x2="284.00" y2="251.50" stroke="#4a4a4a" stroke-width="1.0"/>
<text x="205.50" y="262.00" font-size="8.7" text-anchor="middle" font-weight="normal" font-style="normal" fill="#222">Cas9</text>
<text x="260.50" y="262.00" font-size="8.7" text-anchor="middle" font-weight="normal" font-style="normal" fill="#222">dA11</text>
<polyline points="246.20,160.30 246.20,158.50 256.30,158.50 256.30,160.30" fill="none" stroke="#3a3a3a" stroke-width="0.9"/>
<text x="251.20" y="157.00" font-size="7.2" text-anchor="middle" font-weight="normal" font-style="normal" fill="#222">ns</text>
<polyline points="246.20,151.30 246.20,149.50 265.90,149.50 265.90,151.30" fill="none" stroke="#3a3a3a" stroke-width="0.9"/>
<text x="256.00" y="150.74" font-size="9.5" text-anchor="middle" font-weight="bold" font-style="normal" fill="#1a1a1a">*</text>
<polyline points="246.20,142.30 246.20,140.50 275.70,140.50 275.70,142.30" fill="none" stroke="#3a3a3a" stroke-width="0.9"/>
<text x="260.90" y="142.34" font-size="9.5" text-anchor="middle" font-weight="bold" font-style="normal" fill="#1a1a1a">*</text>
<rect x="187.00" y="152.90" width="5.90" height="5.90" fill="#F9A93B"/>
<text x="195.60" y="159.10" font-size="8.7" text-anchor="start" font-weight="normal" font-style="normal" fill="#222">Control</text>
<text x="186.60" y="172.10" font-size="8.7" text-anchor="start" font-weight="normal" font-style="normal" fill="#222">TLR3i</text>
<rect x="187.00" y="177.40" width="5.90" height="5.90" fill="#68C8D5"/>
<text x="195.6" y="183.40" font-size="8.7" fill="#222">10 <tspan font-style="italic">µ</tspan>g/ml</text>
<rect x="187.00" y="188.20" width="5.90" height="5.90" fill="#4599C4"/>
<text x="195.6" y="194.20" font-size="8.7" fill="#222">20 <tspan font-style="italic">µ</tspan>g/ml</text>
<rect x="187.00" y="199.00" width="5.90" height="5.90" fill="#2466AA"/>
<text x="195.6" y="205.00" font-size="8.7" fill="#222">40 <tspan font-style="italic">µ</tspan>g/ml</text>
<line x1="325.50" y1="165.10" x2="325.50" y2="252.00" stroke="#4a4a4a" stroke-width="1.0"/>
<line x1="323.20" y1="251.30" x2="325.00" y2="251.30" stroke="#888888" stroke-width="0.8"/>
<text x="323.20" y="254.52" font-size="9.0" text-anchor="end" font-weight="normal" font-style="normal" fill="#222">0</text>
<line x1="323.20" y1="236.50" x2="325.00" y2="236.50" stroke="#888888" stroke-width="0.8"/>
<text x="323.20" y="239.72" font-size="9.0" text-anchor="end" font-weight="normal" font-style="normal" fill="#222">10</text>
<line x1="323.20" y1="221.70" x2="325.00" y2="221.70" stroke="#888888" stroke-width="0.8"/>
<text x="323.20" y="224.92" font-size="9.0" text-anchor="end" font-weight="normal" font-style="normal" fill="#222">20</text>
<line x1="323.20" y1="206.90" x2="325.00" y2="206.90" stroke="#888888" stroke-width="0.8"/>
<text x="323.20" y="210.12" font-size="9.0" text-anchor="end" font-weight="normal" font-style="normal" fill="#222">30</text>
<line x1="323.20" y1="192.10" x2="325.00" y2="192.10" stroke="#888888" stroke-width="0.8"/>
<text x="323.20" y="195.32" font-size="9.0" text-anchor="end" font-weight="normal" font-style="normal" fill="#222">40</text>
<line x1="323.20" y1="177.30" x2="325.00" y2="177.30" stroke="#888888" stroke-width="0.8"/>
<text x="323.20" y="180.52" font-size="9.0" text-anchor="end" font-weight="normal" font-style="normal" fill="#222">50</text>
<text x="302.70" y="207.70" font-size="9.5" text-anchor="middle" font-weight="normal" font-style="normal" fill="#222" transform="rotate(-90 302.70 207.70)">Luc activity (fold)</text>
<rect x="332.40" y="249.20" width="7.40" height="1.80" fill="#F9A93B"/>
<circle cx="336.10" cy="248.80" r="1.05" fill="#111"/>
<circle cx="336.10" cy="249.20" r="1.05" fill="#111"/>
<rect x="341.30" y="249.20" width="7.40" height="1.80" fill="#68C8D5"/>
<circle cx="345.00" cy="248.80" r="1.05" fill="#111"/>
<circle cx="345.00" cy="249.20" r="1.05" fill="#111"/>
<rect x="350.30" y="249.20" width="7.40" height="1.80" fill="#4599C4"/>
<circle cx="354.00" cy="248.80" r="1.05" fill="#111"/>
<circle cx="354.00" cy="249.20" r="1.05" fill="#111"/>
<rect x="359.10" y="249.20" width="7.40" height="1.80" fill="#2466AA"/>
<circle cx="362.80" cy="248.80" r="1.05" fill="#111"/>
<circle cx="362.80" cy="249.20" r="1.05" fill="#111"/>
<rect x="385.70" y="210.90" width="7.40" height="40.10" fill="#F9A93B"/>
<line x1="389.50" y1="210.90" x2="389.50" y2="197.00" stroke="#333" stroke-width="0.95"/>
<line x1="388.60" y1="197.00" x2="390.40" y2="197.00" stroke="#333" stroke-width="0.95"/>
<circle cx="389.40" cy="184.20" r="1.05" fill="#111"/>
<circle cx="389.40" cy="217.40" r="1.05" fill="#111"/>
<circle cx="389.40" cy="231.60" r="1.05" fill="#111"/>
<rect x="394.40" y="203.70" width="7.50" height="47.30" fill="#68C8D5"/>
<line x1="398.50" y1="203.70" x2="398.50" y2="184.40" stroke="#333" stroke-width="0.95"/>
<line x1="397.60" y1="184.40" x2="399.40" y2="184.40" stroke="#333" stroke-width="0.95"/>
<circle cx="398.15" cy="166.50" r="1.05" fill="#111"/>
<circle cx="398.15" cy="218.40" r="1.05" fill="#111"/>
<circle cx="398.15" cy="225.50" r="1.05" fill="#111"/>
<rect x="403.50" y="215.70" width="7.30" height="35.30" fill="#4599C4"/>
<line x1="407.50" y1="215.70" x2="407.50" y2="202.70" stroke="#333" stroke-width="0.95"/>
<line x1="406.60" y1="202.70" x2="408.40" y2="202.70" stroke="#333" stroke-width="0.95"/>
<circle cx="407.15" cy="189.90" r="1.05" fill="#111"/>
<circle cx="407.15" cy="225.50" r="1.05" fill="#111"/>
<circle cx="407.15" cy="230.20" r="1.05" fill="#111"/>
<rect x="412.30" y="225.10" width="7.50" height="25.90" fill="#2466AA"/>
<line x1="416.50" y1="225.10" x2="416.50" y2="219.00" stroke="#333" stroke-width="0.95"/>
<line x1="415.60" y1="219.00" x2="417.40" y2="219.00" stroke="#333" stroke-width="0.95"/>
<circle cx="416.05" cy="213.90" r="1.05" fill="#111"/>
<circle cx="416.05" cy="226.90" r="1.05" fill="#111"/>
<circle cx="416.05" cy="234.70" r="1.05" fill="#111"/>
<line x1="325.00" y1="251.50" x2="428.80" y2="251.50" stroke="#4a4a4a" stroke-width="1.0"/>
<text x="350.00" y="262.00" font-size="8.7" text-anchor="middle" font-weight="normal" font-style="normal" fill="#222">Cas9</text>
<text x="403.00" y="262.00" font-size="8.7" text-anchor="middle" font-weight="normal" font-style="normal" fill="#222">dA11</text>
<polyline points="388.10,161.40 388.10,159.80 416.60,159.80 416.60,161.40" fill="none" stroke="#333" stroke-width="0.75"/>
<line x1="397.90" y1="159.80" x2="397.90" y2="161.40" stroke="#333" stroke-width="0.75"/>
<line x1="407.00" y1="159.80" x2="407.00" y2="161.40" stroke="#333" stroke-width="0.75"/>
<text x="402.40" y="157.00" font-size="7.2" text-anchor="middle" font-weight="normal" font-style="normal" fill="#222">ns</text>
<rect x="332.20" y="152.90" width="5.90" height="5.90" fill="#F9A93B"/>
<text x="340.60" y="159.10" font-size="8.7" text-anchor="start" font-weight="normal" font-style="normal" fill="#222">Control</text>
<text x="331.60" y="172.10" font-size="8.7" text-anchor="start" font-weight="normal" font-style="normal" fill="#222">TLR8i</text>
<rect x="332.20" y="177.40" width="5.90" height="5.90" fill="#68C8D5"/>
<text x="340.6" y="183.40" font-size="8.7" fill="#222">0.4 <tspan font-style="italic">µ</tspan>g/ml</text>
<rect x="332.20" y="188.20" width="5.90" height="5.90" fill="#4599C4"/>
<text x="340.6" y="194.20" font-size="8.7" fill="#222">0.8 <tspan font-style="italic">µ</tspan>g/ml</text>
<rect x="332.20" y="199.00" width="5.90" height="5.90" fill="#2466AA"/>
<text x="340.6" y="205.00" font-size="8.7" fill="#222">1.6 <tspan font-style="italic">µ</tspan>g/ml</text>
<text x="456.30" y="140.50" font-size="11.7" text-anchor="start" font-weight="bold" font-style="normal" fill="#000">f</text>
<line x1="489.50" y1="165.10" x2="489.50" y2="252.00" stroke="#4a4a4a" stroke-width="1.0"/>
<line x1="487.20" y1="251.60" x2="489.00" y2="251.60" stroke="#888888" stroke-width="0.8"/>
<text x="485.50" y="254.82" font-size="9.0" text-anchor="end" font-weight="normal" font-style="normal" fill="#222">0</text>
<line x1="487.20" y1="237.27" x2="489.00" y2="237.27" stroke="#888888" stroke-width="0.8"/>
<text x="485.50" y="240.49" font-size="9.0" text-anchor="end" font-weight="normal" font-style="normal" fill="#222">10</text>
<line x1="487.20" y1="222.94" x2="489.00" y2="222.94" stroke="#888888" stroke-width="0.8"/>
<text x="485.50" y="226.16" font-size="9.0" text-anchor="end" font-weight="normal" font-style="normal" fill="#222">20</text>
<line x1="487.20" y1="208.61" x2="489.00" y2="208.61" stroke="#888888" stroke-width="0.8"/>
<text x="485.50" y="211.83" font-size="9.0" text-anchor="end" font-weight="normal" font-style="normal" fill="#222">30</text>
<line x1="487.20" y1="194.28" x2="489.00" y2="194.28" stroke="#888888" stroke-width="0.8"/>
<text x="485.50" y="197.50" font-size="9.0" text-anchor="end" font-weight="normal" font-style="normal" fill="#222">40</text>
<line x1="487.20" y1="179.95" x2="489.00" y2="179.95" stroke="#888888" stroke-width="0.8"/>
<text x="485.50" y="183.17" font-size="9.0" text-anchor="end" font-weight="normal" font-style="normal" fill="#222">50</text>
<line x1="487.20" y1="165.62" x2="489.00" y2="165.62" stroke="#888888" stroke-width="0.8"/>
<text x="485.50" y="168.84" font-size="9.0" text-anchor="end" font-weight="normal" font-style="normal" fill="#222">60</text>
<text x="466.70" y="208.70" font-size="9.5" text-anchor="middle" font-weight="normal" font-style="normal" fill="#222" transform="rotate(-90 466.70 208.70)">Luc activity (fold)</text>
<rect x="498.00" y="250.30" width="6.60" height="0.70" fill="#F9A93B"/>
<circle cx="501.30" cy="249.80" r="1.05" fill="#111"/>
<rect x="505.20" y="250.30" width="6.80" height="0.70" fill="#68C8D5"/>
<circle cx="508.60" cy="249.80" r="1.05" fill="#111"/>
<rect x="512.80" y="249.80" width="6.80" height="1.20" fill="#2A8D99"/>
<line x1="516.50" y1="249.80" x2="516.50" y2="248.60" stroke="#333" stroke-width="0.95"/>
<line x1="515.60" y1="248.60" x2="517.40" y2="248.60" stroke="#333" stroke-width="0.95"/>
<circle cx="516.20" cy="248.80" r="1.05" fill="#111"/>
<circle cx="516.20" cy="249.80" r="1.05" fill="#111"/>
<rect x="545.20" y="242.30" width="6.60" height="8.70" fill="#F9A93B"/>
<line x1="548.50" y1="242.30" x2="548.50" y2="236.40" stroke="#333" stroke-width="0.95"/>
<line x1="547.60" y1="236.40" x2="549.40" y2="236.40" stroke="#333" stroke-width="0.95"/>
<circle cx="548.50" cy="231.50" r="1.05" fill="#111"/>
<circle cx="548.50" cy="246.20" r="1.05" fill="#111"/>
<circle cx="548.50" cy="248.20" r="1.05" fill="#111"/>
<rect x="552.80" y="200.00" width="7.00" height="51.00" fill="#68C8D5"/>
<line x1="556.50" y1="200.00" x2="556.50" y2="193.10" stroke="#333" stroke-width="0.95"/>
<line x1="555.60" y1="193.10" x2="557.40" y2="193.10" stroke="#333" stroke-width="0.95"/>
<circle cx="556.30" cy="192.10" r="1.05" fill="#111"/>
<circle cx="556.30" cy="197.10" r="1.05" fill="#111"/>
<circle cx="556.30" cy="208.90" r="1.05" fill="#111"/>
<rect x="562.00" y="173.40" width="7.00" height="77.60" fill="#2A8D99"/>
<line x1="565.50" y1="173.40" x2="565.50" y2="169.10" stroke="#333" stroke-width="0.95"/>
<line x1="564.60" y1="169.10" x2="566.40" y2="169.10" stroke="#333" stroke-width="0.95"/>
<circle cx="565.50" cy="169.50" r="1.05" fill="#111"/>
<circle cx="565.50" cy="171.50" r="1.05" fill="#111"/>
<circle cx="565.50" cy="177.40" r="1.05" fill="#111"/>
<line x1="489.00" y1="251.50" x2="577.60" y2="251.50" stroke="#4a4a4a" stroke-width="1.0"/>
<text x="507.80" y="262.00" font-size="8.7" text-anchor="middle" font-weight="normal" font-style="normal" fill="#222">Cas9</text>
<text x="555.80" y="262.00" font-size="8.7" text-anchor="middle" font-weight="normal" font-style="normal" fill="#222">dA11</text>
<polyline points="547.00,153.30 547.00,151.50 566.70,151.50 566.70,153.30" fill="none" stroke="#3a3a3a" stroke-width="0.9"/>
<text x="557.30" y="153.84" font-size="9.5" text-anchor="middle" font-weight="bold" font-style="normal" fill="#1a1a1a" letter-spacing="0.6">***</text>
<polyline points="547.00,161.30 547.00,159.50 557.30,159.50 557.30,161.30" fill="none" stroke="#3a3a3a" stroke-width="0.9"/>
<text x="552.90" y="161.64" font-size="9.5" text-anchor="middle" font-weight="bold" font-style="normal" fill="#1a1a1a" letter-spacing="0.6">**</text>
<polyline points="556.50,167.30 556.50,165.50 566.70,165.50 566.70,167.30" fill="none" stroke="#3a3a3a" stroke-width="0.9"/>
<text x="561.80" y="167.34" font-size="9.5" text-anchor="middle" font-weight="bold" font-style="normal" fill="#1a1a1a">*</text>
<rect x="495.50" y="147.80" width="6.00" height="6.00" fill="#F9A93B"/>
<text x="503.60" y="153.90" font-size="8.7" text-anchor="start" font-weight="normal" font-style="normal" fill="#222">Control</text>
<rect x="495.50" y="159.15" width="6.00" height="6.00" fill="#68C8D5"/>
<text x="503.60" y="165.25" font-size="8.7" text-anchor="start" font-weight="normal" font-style="normal" fill="#222">Poly(I:C)</text>
<rect x="495.50" y="170.50" width="6.00" height="6.00" fill="#2A8D99"/>
<text x="503.60" y="176.60" font-size="8.7" text-anchor="start" font-weight="normal" font-style="normal" fill="#222">Ampligen</text>
<text x="-0.90" y="282.30" font-size="11.7" text-anchor="start" font-weight="bold" font-style="normal" fill="#000">g</text>
<text x="21.30" y="414.00" font-size="9.5" text-anchor="middle" font-weight="normal" font-style="normal" fill="#222" transform="rotate(-90 21.30 414.00)">Expression (fold)</text>
<rect x="579.70" y="272.40" width="6.20" height="6.20" fill="#F9A93B"/>
<text x="588.30" y="278.60" font-size="8.7" text-anchor="start" font-weight="normal" font-style="normal" fill="#222">Control</text>
<rect x="579.70" y="283.90" width="6.20" height="6.20" fill="#68C8D5"/>
<text x="588.30" y="290.10" font-size="8.7" text-anchor="start" font-weight="normal" font-style="normal" fill="#222">Poly(I:C)</text>
<line x1="51.50" y1="294.20" x2="51.50" y2="408.00" stroke="#4a4a4a" stroke-width="1.0"/>
<line x1="49.20" y1="406.80" x2="51.00" y2="406.80" stroke="#888888" stroke-width="0.8"/>
<text x="46.60" y="410.06" font-size="9.1" text-anchor="end" font-weight="normal" font-style="normal" fill="#222">0</text>
<line x1="49.20" y1="378.30" x2="51.00" y2="378.30" stroke="#888888" stroke-width="0.8"/>
<text x="46.60" y="381.56" font-size="9.1" text-anchor="end" font-weight="normal" font-style="normal" fill="#222">20</text>
<line x1="49.20" y1="349.80" x2="51.00" y2="349.80" stroke="#888888" stroke-width="0.8"/>
<text x="46.60" y="353.06" font-size="9.1" text-anchor="end" font-weight="normal" font-style="normal" fill="#222">40</text>
<line x1="49.20" y1="321.30" x2="51.00" y2="321.30" stroke="#888888" stroke-width="0.8"/>
<text x="46.60" y="324.56" font-size="9.1" text-anchor="end" font-weight="normal" font-style="normal" fill="#222">60</text>
<rect x="55.65" y="404.38" width="6.70" height="3.12" fill="#F9A93B"/>
<circle cx="57.08" cy="405.28" r="0.85" fill="#111"/>
<circle cx="59.00" cy="405.28" r="0.85" fill="#111"/>
<circle cx="60.92" cy="405.28" r="0.85" fill="#111"/>
<rect x="63.05" y="403.81" width="6.70" height="3.69" fill="#38AFBF"/>
<circle cx="64.48" cy="404.71" r="0.85" fill="#111"/>
<circle cx="66.40" cy="404.71" r="0.85" fill="#111"/>
<circle cx="68.32" cy="404.71" r="0.85" fill="#111"/>
<rect x="75.20" y="405.23" width="6.70" height="2.27" fill="#F9A93B"/>
<circle cx="76.63" cy="406.13" r="0.85" fill="#111"/>
<circle cx="78.55" cy="406.13" r="0.85" fill="#111"/>
<circle cx="80.47" cy="406.13" r="0.85" fill="#111"/>
<rect x="82.60" y="404.95" width="6.70" height="2.55" fill="#38AFBF"/>
<circle cx="84.03" cy="405.85" r="0.85" fill="#111"/>
<circle cx="85.95" cy="405.85" r="0.85" fill="#111"/>
<circle cx="87.87" cy="405.85" r="0.85" fill="#111"/>
<rect x="94.75" y="401.67" width="6.70" height="5.83" fill="#F9A93B"/>
<circle cx="96.18" cy="402.57" r="0.85" fill="#111"/>
<circle cx="98.10" cy="402.57" r="0.85" fill="#111"/>
<circle cx="100.02" cy="402.57" r="0.85" fill="#111"/>
<rect x="102.15" y="328.85" width="6.70" height="78.65" fill="#38AFBF"/>
<line x1="105.50" y1="328.85" x2="105.50" y2="310.30" stroke="#333" stroke-width="0.95"/>
<line x1="104.60" y1="310.30" x2="106.40" y2="310.30" stroke="#333" stroke-width="0.95"/>
<circle cx="105.50" cy="295.90" r="1.05" fill="#111"/>
<circle cx="105.50" cy="331.40" r="1.05" fill="#111"/>
<circle cx="105.50" cy="358.40" r="1.05" fill="#111"/>
<rect x="114.30" y="401.10" width="6.70" height="6.40" fill="#F9A93B"/>
<circle cx="115.73" cy="402.00" r="0.85" fill="#111"/>
<circle cx="117.65" cy="402.00" r="0.85" fill="#111"/>
<circle cx="119.57" cy="402.00" r="0.85" fill="#111"/>
<rect x="121.70" y="371.75" width="6.70" height="35.75" fill="#38AFBF"/>
<line x1="125.50" y1="371.75" x2="125.50" y2="358.40" stroke="#333" stroke-width="0.95"/>
<line x1="124.60" y1="358.40" x2="126.40" y2="358.40" stroke="#333" stroke-width="0.95"/>
<circle cx="125.05" cy="350.80" r="1.05" fill="#111"/>
<circle cx="125.05" cy="369.10" r="1.05" fill="#111"/>
<circle cx="125.05" cy="395.00" r="1.05" fill="#111"/>
<line x1="51.00" y1="407.50" x2="133.60" y2="407.50" stroke="#4a4a4a" stroke-width="1.0"/>
<text x="38.90" y="287.00" font-size="9.5" text-anchor="start" font-weight="bold" font-style="italic" fill="#111">DDX60</text>
<polyline points="104.80,293.30 104.80,291.50 124.70,291.50 124.70,293.30" fill="none" stroke="#3a3a3a" stroke-width="0.9"/>
<text x="114.75" y="291.68" font-size="8.8" text-anchor="middle" font-weight="normal" font-style="normal" fill="#1a1a1a">*</text>
<line x1="159.50" y1="294.20" x2="159.50" y2="408.00" stroke="#4a4a4a" stroke-width="1.0"/>
<line x1="157.20" y1="406.80" x2="159.00" y2="406.80" stroke="#888888" stroke-width="0.8"/>
<text x="156.10" y="410.06" font-size="9.1" text-anchor="end" font-weight="normal" font-style="normal" fill="#222">0</text>
<line x1="157.20" y1="381.90" x2="159.00" y2="381.90" stroke="#888888" stroke-width="0.8"/>
<text x="156.10" y="385.16" font-size="9.1" text-anchor="end" font-weight="normal" font-style="normal" fill="#222">100</text>
<line x1="157.20" y1="357.00" x2="159.00" y2="357.00" stroke="#888888" stroke-width="0.8"/>
<text x="156.10" y="360.26" font-size="9.1" text-anchor="end" font-weight="normal" font-style="normal" fill="#222">200</text>
<line x1="157.20" y1="332.10" x2="159.00" y2="332.10" stroke="#888888" stroke-width="0.8"/>
<text x="156.10" y="335.36" font-size="9.1" text-anchor="end" font-weight="normal" font-style="normal" fill="#222">300</text>
<line x1="157.20" y1="307.20" x2="159.00" y2="307.20" stroke="#888888" stroke-width="0.8"/>
<text x="156.10" y="310.46" font-size="9.1" text-anchor="end" font-weight="normal" font-style="normal" fill="#222">400</text>
<rect x="162.95" y="406.30" width="6.70" height="1.20" fill="#F9A93B"/>
<circle cx="164.38" cy="407.20" r="0.85" fill="#111"/>
<circle cx="166.30" cy="407.20" r="0.85" fill="#111"/>
<circle cx="168.22" cy="407.20" r="0.85" fill="#111"/>
<rect x="171.75" y="406.05" width="6.70" height="1.45" fill="#38AFBF"/>
<circle cx="173.18" cy="406.95" r="0.85" fill="#111"/>
<circle cx="175.10" cy="406.95" r="0.85" fill="#111"/>
<circle cx="177.02" cy="406.95" r="0.85" fill="#111"/>
<rect x="182.50" y="406.30" width="6.70" height="1.20" fill="#F9A93B"/>
<circle cx="183.93" cy="407.20" r="0.85" fill="#111"/>
<circle cx="185.85" cy="407.20" r="0.85" fill="#111"/>
<circle cx="187.77" cy="407.20" r="0.85" fill="#111"/>
<rect x="191.30" y="406.30" width="6.70" height="1.20" fill="#38AFBF"/>
<circle cx="192.73" cy="407.20" r="0.85" fill="#111"/>
<circle cx="194.65" cy="407.20" r="0.85" fill="#111"/>
<circle cx="196.57" cy="407.20" r="0.85" fill="#111"/>
<rect x="202.05" y="405.31" width="6.70" height="2.19" fill="#F9A93B"/>
<circle cx="203.48" cy="406.21" r="0.85" fill="#111"/>
<circle cx="205.40" cy="406.21" r="0.85" fill="#111"/>
<circle cx="207.32" cy="406.21" r="0.85" fill="#111"/>
<rect x="210.85" y="337.58" width="6.70" height="69.92" fill="#38AFBF"/>
<line x1="214.50" y1="337.58" x2="214.50" y2="315.80" stroke="#333" stroke-width="0.95"/>
<line x1="213.60" y1="315.80" x2="215.40" y2="315.80" stroke="#333" stroke-width="0.95"/>
<circle cx="214.20" cy="296.80" r="1.05" fill="#111"/>
<circle cx="214.20" cy="346.30" r="1.05" fill="#111"/>
<circle cx="214.20" cy="367.90" r="1.05" fill="#111"/>
<rect x="221.60" y="405.31" width="6.70" height="2.19" fill="#F9A93B"/>
<circle cx="223.03" cy="406.21" r="0.85" fill="#111"/>
<circle cx="224.95" cy="406.21" r="0.85" fill="#111"/>
<circle cx="226.87" cy="406.21" r="0.85" fill="#111"/>
<rect x="230.40" y="393.85" width="6.70" height="13.65" fill="#38AFBF"/>
<line x1="233.50" y1="393.85" x2="233.50" y2="388.20" stroke="#333" stroke-width="0.95"/>
<line x1="232.60" y1="388.20" x2="234.40" y2="388.20" stroke="#333" stroke-width="0.95"/>
<circle cx="233.75" cy="384.40" r="1.05" fill="#111"/>
<circle cx="233.75" cy="391.30" r="1.05" fill="#111"/>
<circle cx="233.75" cy="403.50" r="1.05" fill="#111"/>
<line x1="159.00" y1="407.50" x2="241.60" y2="407.50" stroke="#4a4a4a" stroke-width="1.0"/>
<text x="151.70" y="287.00" font-size="9.5" text-anchor="start" font-weight="bold" font-style="italic" fill="#111">DHX58</text>
<polyline points="214.40,293.30 214.40,291.50 234.20,291.50 234.20,293.30" fill="none" stroke="#3a3a3a" stroke-width="0.9"/>
<text x="224.55" y="292.28" font-size="8.8" text-anchor="middle" font-weight="normal" font-style="normal" fill="#1a1a1a" letter-spacing="0.5">**</text>
<line x1="271.50" y1="294.20" x2="271.50" y2="408.00" stroke="#4a4a4a" stroke-width="1.0"/>
<line x1="269.20" y1="406.80" x2="271.00" y2="406.80" stroke="#888888" stroke-width="0.8"/>
<text x="268.10" y="410.06" font-size="9.1" text-anchor="end" font-weight="normal" font-style="normal" fill="#222">0</text>
<line x1="269.20" y1="379.29" x2="271.00" y2="379.29" stroke="#888888" stroke-width="0.8"/>
<text x="268.10" y="382.55" font-size="9.1" text-anchor="end" font-weight="normal" font-style="normal" fill="#222">300</text>
<line x1="269.20" y1="351.78" x2="271.00" y2="351.78" stroke="#888888" stroke-width="0.8"/>
<text x="268.10" y="355.04" font-size="9.1" text-anchor="end" font-weight="normal" font-style="normal" fill="#222">600</text>
<line x1="269.20" y1="324.27" x2="271.00" y2="324.27" stroke="#888888" stroke-width="0.8"/>
<text x="268.10" y="327.53" font-size="9.1" text-anchor="end" font-weight="normal" font-style="normal" fill="#222">900</text>
<line x1="269.20" y1="296.76" x2="271.00" y2="296.76" stroke="#888888" stroke-width="0.8"/>
<text x="268.10" y="300.02" font-size="9.1" text-anchor="end" font-weight="normal" font-style="normal" fill="#222">1,200</text>
<rect x="274.95" y="406.34" width="6.70" height="1.16" fill="#F9A93B"/>
<circle cx="276.38" cy="407.24" r="0.85" fill="#111"/>
<circle cx="278.30" cy="407.24" r="0.85" fill="#111"/>
<circle cx="280.22" cy="407.24" r="0.85" fill="#111"/>
<rect x="283.75" y="406.34" width="6.70" height="1.16" fill="#38AFBF"/>
<circle cx="285.18" cy="407.24" r="0.85" fill="#111"/>
<circle cx="287.10" cy="407.24" r="0.85" fill="#111"/>
<circle cx="289.02" cy="407.24" r="0.85" fill="#111"/>
<rect x="294.50" y="406.34" width="6.70" height="1.16" fill="#F9A93B"/>
<circle cx="295.93" cy="407.24" r="0.85" fill="#111"/>
<circle cx="297.85" cy="407.24" r="0.85" fill="#111"/>
<circle cx="299.77" cy="407.24" r="0.85" fill="#111"/>
<rect x="303.30" y="406.34" width="6.70" height="1.16" fill="#38AFBF"/>
<circle cx="304.73" cy="407.24" r="0.85" fill="#111"/>
<circle cx="306.65" cy="407.24" r="0.85" fill="#111"/>
<circle cx="308.57" cy="407.24" r="0.85" fill="#111"/>
<rect x="314.05" y="404.97" width="6.70" height="2.53" fill="#F9A93B"/>
<circle cx="315.48" cy="405.87" r="0.85" fill="#111"/>
<circle cx="317.40" cy="405.87" r="0.85" fill="#111"/>
<circle cx="319.32" cy="405.87" r="0.85" fill="#111"/>
<rect x="322.85" y="335.64" width="6.70" height="71.86" fill="#38AFBF"/>
<line x1="326.50" y1="335.64" x2="326.50" y2="315.80" stroke="#333" stroke-width="0.95"/>
<line x1="325.60" y1="315.80" x2="327.40" y2="315.80" stroke="#333" stroke-width="0.95"/>
<circle cx="326.20" cy="296.80" r="1.05" fill="#111"/>
<circle cx="326.20" cy="349.60" r="1.05" fill="#111"/>
<circle cx="326.20" cy="360.30" r="1.05" fill="#111"/>
<rect x="333.60" y="404.97" width="6.70" height="2.53" fill="#F9A93B"/>
<circle cx="335.03" cy="405.87" r="0.85" fill="#111"/>
<circle cx="336.95" cy="405.87" r="0.85" fill="#111"/>
<circle cx="338.87" cy="405.87" r="0.85" fill="#111"/>
<rect x="342.40" y="398.91" width="6.70" height="8.59" fill="#38AFBF"/>
<line x1="345.50" y1="398.91" x2="345.50" y2="393.30" stroke="#333" stroke-width="0.95"/>
<line x1="344.60" y1="393.30" x2="346.40" y2="393.30" stroke="#333" stroke-width="0.95"/>
<circle cx="345.75" cy="393.30" r="1.05" fill="#111"/>
<circle cx="345.75" cy="397.10" r="1.05" fill="#111"/>
<circle cx="345.75" cy="403.00" r="1.05" fill="#111"/>
<line x1="271.00" y1="407.50" x2="353.60" y2="407.50" stroke="#4a4a4a" stroke-width="1.0"/>
<text x="264.60" y="287.00" font-size="9.5" text-anchor="start" font-weight="bold" font-style="italic" fill="#111">IFIH1</text>
<polyline points="327.00,294.30 327.00,292.50 346.70,292.50 346.70,294.30" fill="none" stroke="#3a3a3a" stroke-width="0.9"/>
<text x="337.10" y="292.58" font-size="8.8" text-anchor="middle" font-weight="normal" font-style="normal" fill="#1a1a1a" letter-spacing="0.5">**</text>
<line x1="383.50" y1="294.20" x2="383.50" y2="408.00" stroke="#4a4a4a" stroke-width="1.0"/>
<line x1="381.20" y1="406.80" x2="383.00" y2="406.80" stroke="#888888" stroke-width="0.8"/>
<text x="379.80" y="410.06" font-size="9.1" text-anchor="end" font-weight="normal" font-style="normal" fill="#222">0</text>
<line x1="381.20" y1="381.40" x2="383.00" y2="381.40" stroke="#888888" stroke-width="0.8"/>
<text x="379.80" y="384.66" font-size="9.1" text-anchor="end" font-weight="normal" font-style="normal" fill="#222">500</text>
<line x1="381.20" y1="356.00" x2="383.00" y2="356.00" stroke="#888888" stroke-width="0.8"/>
<text x="379.80" y="359.26" font-size="9.1" text-anchor="end" font-weight="normal" font-style="normal" fill="#222">1,000</text>
<line x1="381.20" y1="330.60" x2="383.00" y2="330.60" stroke="#888888" stroke-width="0.8"/>
<text x="379.80" y="333.86" font-size="9.1" text-anchor="end" font-weight="normal" font-style="normal" fill="#222">1,500</text>
<line x1="381.20" y1="305.20" x2="383.00" y2="305.20" stroke="#888888" stroke-width="0.8"/>
<text x="379.80" y="308.46" font-size="9.1" text-anchor="end" font-weight="normal" font-style="normal" fill="#222">2,000</text>
<rect x="387.45" y="406.55" width="6.70" height="0.95" fill="#F9A93B"/>
<circle cx="388.88" cy="407.45" r="0.85" fill="#111"/>
<circle cx="390.80" cy="407.45" r="0.85" fill="#111"/>
<circle cx="392.72" cy="407.45" r="0.85" fill="#111"/>
<rect x="395.25" y="406.55" width="6.70" height="0.95" fill="#38AFBF"/>
<circle cx="396.68" cy="407.45" r="0.85" fill="#111"/>
<circle cx="398.60" cy="407.45" r="0.85" fill="#111"/>
<circle cx="400.52" cy="407.45" r="0.85" fill="#111"/>
<rect x="407.00" y="406.55" width="6.70" height="0.95" fill="#F9A93B"/>
<circle cx="408.43" cy="407.45" r="0.85" fill="#111"/>
<circle cx="410.35" cy="407.45" r="0.85" fill="#111"/>
<circle cx="412.27" cy="407.45" r="0.85" fill="#111"/>
<rect x="414.80" y="406.55" width="6.70" height="0.95" fill="#38AFBF"/>
<circle cx="416.23" cy="407.45" r="0.85" fill="#111"/>
<circle cx="418.15" cy="407.45" r="0.85" fill="#111"/>
<circle cx="420.07" cy="407.45" r="0.85" fill="#111"/>
<rect x="426.55" y="406.55" width="6.70" height="0.95" fill="#F9A93B"/>
<circle cx="427.98" cy="407.45" r="0.85" fill="#111"/>
<circle cx="429.90" cy="407.45" r="0.85" fill="#111"/>
<circle cx="431.82" cy="407.45" r="0.85" fill="#111"/>
<rect x="434.35" y="343.30" width="6.70" height="64.20" fill="#38AFBF"/>
<line x1="437.50" y1="343.30" x2="437.50" y2="318.40" stroke="#333" stroke-width="0.95"/>
<line x1="436.60" y1="318.40" x2="438.40" y2="318.40" stroke="#333" stroke-width="0.95"/>
<circle cx="437.70" cy="296.80" r="1.05" fill="#111"/>
<circle cx="437.70" cy="353.40" r="1.05" fill="#111"/>
<circle cx="437.70" cy="377.50" r="1.05" fill="#111"/>
<rect x="446.10" y="406.55" width="6.70" height="0.95" fill="#F9A93B"/>
<circle cx="447.53" cy="407.45" r="0.85" fill="#111"/>
<circle cx="449.45" cy="407.45" r="0.85" fill="#111"/>
<circle cx="451.37" cy="407.45" r="0.85" fill="#111"/>
<rect x="453.90" y="396.64" width="6.70" height="10.86" fill="#38AFBF"/>
<line x1="457.50" y1="396.64" x2="457.50" y2="390.30" stroke="#333" stroke-width="0.95"/>
<line x1="456.60" y1="390.30" x2="458.40" y2="390.30" stroke="#333" stroke-width="0.95"/>
<circle cx="457.25" cy="385.70" r="1.05" fill="#111"/>
<circle cx="457.25" cy="397.10" r="1.05" fill="#111"/>
<circle cx="457.25" cy="405.50" r="1.05" fill="#111"/>
<line x1="383.00" y1="407.50" x2="465.60" y2="407.50" stroke="#4a4a4a" stroke-width="1.0"/>
<text x="374.00" y="287.00" font-size="9.5" text-anchor="start" font-weight="bold" font-style="italic" fill="#111">IFIT1</text>
<polyline points="437.60,294.30 437.60,292.50 457.90,292.50 457.90,294.30" fill="none" stroke="#3a3a3a" stroke-width="0.9"/>
<text x="448.00" y="292.58" font-size="8.8" text-anchor="middle" font-weight="normal" font-style="normal" fill="#1a1a1a" letter-spacing="0.5">**</text>
<line x1="493.50" y1="294.20" x2="493.50" y2="408.00" stroke="#4a4a4a" stroke-width="1.0"/>
<line x1="491.20" y1="406.80" x2="493.00" y2="406.80" stroke="#888888" stroke-width="0.8"/>
<text x="490.70" y="410.06" font-size="9.1" text-anchor="end" font-weight="normal" font-style="normal" fill="#222">0</text>
<line x1="491.20" y1="385.05" x2="493.00" y2="385.05" stroke="#888888" stroke-width="0.8"/>
<text x="490.70" y="388.31" font-size="9.1" text-anchor="end" font-weight="normal" font-style="normal" fill="#222">2.5</text>
<line x1="491.20" y1="363.30" x2="493.00" y2="363.30" stroke="#888888" stroke-width="0.8"/>
<text x="490.70" y="366.56" font-size="9.1" text-anchor="end" font-weight="normal" font-style="normal" fill="#222">5.0</text>
<line x1="491.20" y1="341.55" x2="493.00" y2="341.55" stroke="#888888" stroke-width="0.8"/>
<text x="490.70" y="344.81" font-size="9.1" text-anchor="end" font-weight="normal" font-style="normal" fill="#222">7.5</text>
<line x1="491.20" y1="319.80" x2="493.00" y2="319.80" stroke="#888888" stroke-width="0.8"/>
<text x="490.70" y="323.06" font-size="9.1" text-anchor="end" font-weight="normal" font-style="normal" fill="#222">10.0</text>
<line x1="491.20" y1="298.05" x2="493.00" y2="298.05" stroke="#888888" stroke-width="0.8"/>
<text x="490.70" y="301.31" font-size="9.1" text-anchor="end" font-weight="normal" font-style="normal" fill="#222">12.5</text>
<rect x="497.65" y="397.49" width="6.70" height="10.01" fill="#F9A93B"/>
<circle cx="499.08" cy="398.39" r="0.85" fill="#111"/>
<circle cx="501.00" cy="398.39" r="0.85" fill="#111"/>
<circle cx="502.92" cy="398.39" r="0.85" fill="#111"/>
<rect x="505.05" y="398.10" width="6.70" height="9.40" fill="#38AFBF"/>
<circle cx="506.48" cy="399.00" r="0.85" fill="#111"/>
<circle cx="508.40" cy="399.00" r="0.85" fill="#111"/>
<circle cx="510.32" cy="399.00" r="0.85" fill="#111"/>
<rect x="517.20" y="401.58" width="6.70" height="5.92" fill="#F9A93B"/>
<line x1="520.50" y1="401.58" x2="520.50" y2="399.70" stroke="#333" stroke-width="0.95"/>
<line x1="519.60" y1="399.70" x2="521.40" y2="399.70" stroke="#333" stroke-width="0.95"/>
<circle cx="520.55" cy="399.70" r="1.05" fill="#111"/>
<circle cx="520.55" cy="404.00" r="1.05" fill="#111"/>
<rect x="524.60" y="402.01" width="6.70" height="5.49" fill="#38AFBF"/>
<circle cx="526.03" cy="402.91" r="0.85" fill="#111"/>
<circle cx="527.95" cy="402.91" r="0.85" fill="#111"/>
<circle cx="529.87" cy="402.91" r="0.85" fill="#111"/>
<rect x="536.75" y="403.32" width="6.70" height="4.18" fill="#F9A93B"/>
<circle cx="538.18" cy="404.22" r="0.85" fill="#111"/>
<circle cx="540.10" cy="404.22" r="0.85" fill="#111"/>
<circle cx="542.02" cy="404.22" r="0.85" fill="#111"/>
<rect x="544.15" y="318.06" width="6.70" height="89.44" fill="#38AFBF"/>
<line x1="547.50" y1="318.06" x2="547.50" y2="304.40" stroke="#333" stroke-width="0.95"/>
<line x1="546.60" y1="304.40" x2="548.40" y2="304.40" stroke="#333" stroke-width="0.95"/>
<circle cx="547.50" cy="296.30" r="1.05" fill="#111"/>
<circle cx="547.50" cy="314.50" r="1.05" fill="#111"/>
<circle cx="547.50" cy="342.00" r="1.05" fill="#111"/>
<rect x="556.30" y="405.93" width="6.70" height="1.57" fill="#F9A93B"/>
<circle cx="557.73" cy="406.83" r="0.85" fill="#111"/>
<circle cx="559.65" cy="406.83" r="0.85" fill="#111"/>
<circle cx="561.57" cy="406.83" r="0.85" fill="#111"/>
<rect x="563.70" y="400.71" width="6.70" height="6.79" fill="#38AFBF"/>
<line x1="567.50" y1="400.71" x2="567.50" y2="398.00" stroke="#333" stroke-width="0.95"/>
<line x1="566.60" y1="398.00" x2="568.40" y2="398.00" stroke="#333" stroke-width="0.95"/>
<circle cx="567.05" cy="398.40" r="1.05" fill="#111"/>
<circle cx="567.05" cy="398.60" r="1.05" fill="#111"/>
<circle cx="567.05" cy="404.20" r="1.05" fill="#111"/>
<line x1="493.00" y1="407.50" x2="575.60" y2="407.50" stroke="#4a4a4a" stroke-width="1.0"/>
<text x="481.50" y="287.00" font-size="9.5" text-anchor="start" font-weight="bold" font-style="italic" fill="#111">IFITM1</text>
<polyline points="546.80,294.30 546.80,292.50 566.60,292.50 566.60,294.30" fill="none" stroke="#3a3a3a" stroke-width="0.9"/>
<text x="556.95" y="292.58" font-size="8.8" text-anchor="middle" font-weight="normal" font-style="normal" fill="#1a1a1a" letter-spacing="0.5">**</text>
<line x1="51.50" y1="432.90" x2="51.50" y2="547.00" stroke="#4a4a4a" stroke-width="1.0"/>
<line x1="49.20" y1="545.80" x2="51.00" y2="545.80" stroke="#888888" stroke-width="0.8"/>
<text x="46.80" y="549.06" font-size="9.1" text-anchor="end" font-weight="normal" font-style="normal" fill="#222">0</text>
<line x1="49.20" y1="515.00" x2="51.00" y2="515.00" stroke="#888888" stroke-width="0.8"/>
<text x="46.80" y="518.26" font-size="9.1" text-anchor="end" font-weight="normal" font-style="normal" fill="#222">1</text>
<line x1="49.20" y1="484.20" x2="51.00" y2="484.20" stroke="#888888" stroke-width="0.8"/>
<text x="46.80" y="487.46" font-size="9.1" text-anchor="end" font-weight="normal" font-style="normal" fill="#222">2</text>
<line x1="49.20" y1="453.40" x2="51.00" y2="453.40" stroke="#888888" stroke-width="0.8"/>
<text x="46.80" y="456.66" font-size="9.1" text-anchor="end" font-weight="normal" font-style="normal" fill="#222">3</text>
<rect x="55.65" y="515.00" width="6.70" height="31.50" fill="#F9A93B"/>
<circle cx="57.08" cy="515.90" r="0.85" fill="#111"/>
<circle cx="59.00" cy="515.90" r="0.85" fill="#111"/>
<circle cx="60.92" cy="515.90" r="0.85" fill="#111"/>
<rect x="63.05" y="517.16" width="6.70" height="29.34" fill="#38AFBF"/>
<circle cx="64.48" cy="518.06" r="0.85" fill="#111"/>
<circle cx="66.40" cy="518.06" r="0.85" fill="#111"/>
<circle cx="68.32" cy="518.06" r="0.85" fill="#111"/>
<rect x="75.20" y="522.08" width="6.70" height="24.42" fill="#F9A93B"/>
<line x1="78.50" y1="522.08" x2="78.50" y2="516.80" stroke="#333" stroke-width="0.95"/>
<line x1="77.60" y1="516.80" x2="79.40" y2="516.80" stroke="#333" stroke-width="0.95"/>
<circle cx="78.55" cy="516.80" r="1.05" fill="#111"/>
<circle cx="78.55" cy="524.80" r="1.05" fill="#111"/>
<rect x="82.60" y="525.47" width="6.70" height="21.03" fill="#38AFBF"/>
<line x1="85.50" y1="525.47" x2="85.50" y2="519.90" stroke="#333" stroke-width="0.95"/>
<line x1="84.60" y1="519.90" x2="86.40" y2="519.90" stroke="#333" stroke-width="0.95"/>
<circle cx="85.95" cy="519.90" r="1.05" fill="#111"/>
<circle cx="85.95" cy="530.00" r="1.05" fill="#111"/>
<rect x="94.75" y="495.60" width="6.70" height="50.90" fill="#F9A93B"/>
<line x1="98.50" y1="495.60" x2="98.50" y2="486.30" stroke="#333" stroke-width="0.95"/>
<line x1="97.60" y1="486.30" x2="99.40" y2="486.30" stroke="#333" stroke-width="0.95"/>
<circle cx="98.10" cy="481.70" r="1.05" fill="#111"/>
<circle cx="98.10" cy="484.80" r="1.05" fill="#111"/>
<circle cx="98.10" cy="516.80" r="1.05" fill="#111"/>
<rect x="102.15" y="453.40" width="6.70" height="93.10" fill="#38AFBF"/>
<line x1="105.50" y1="453.40" x2="105.50" y2="442.00" stroke="#333" stroke-width="0.95"/>
<line x1="104.60" y1="442.00" x2="106.40" y2="442.00" stroke="#333" stroke-width="0.95"/>
<circle cx="105.50" cy="432.90" r="1.05" fill="#111"/>
<circle cx="105.50" cy="456.40" r="1.05" fill="#111"/>
<circle cx="105.50" cy="468.00" r="1.05" fill="#111"/>
<rect x="114.30" y="529.78" width="6.70" height="16.72" fill="#F9A93B"/>
<line x1="117.50" y1="529.78" x2="117.50" y2="526.60" stroke="#333" stroke-width="0.95"/>
<line x1="116.60" y1="526.60" x2="118.40" y2="526.60" stroke="#333" stroke-width="0.95"/>
<circle cx="117.65" cy="526.60" r="1.05" fill="#111"/>
<circle cx="117.65" cy="535.00" r="1.05" fill="#111"/>
<rect x="121.70" y="517.77" width="6.70" height="28.73" fill="#38AFBF"/>
<line x1="125.50" y1="517.77" x2="125.50" y2="510.70" stroke="#333" stroke-width="0.95"/>
<line x1="124.60" y1="510.70" x2="126.40" y2="510.70" stroke="#333" stroke-width="0.95"/>
<circle cx="125.05" cy="510.70" r="1.05" fill="#111"/>
<circle cx="125.05" cy="521.00" r="1.05" fill="#111"/>
<circle cx="125.05" cy="523.00" r="1.05" fill="#111"/>
<line x1="51.00" y1="546.50" x2="133.60" y2="546.50" stroke="#4a4a4a" stroke-width="1.0"/>
<text x="38.90" y="425.00" font-size="9.5" text-anchor="start" font-weight="bold" font-style="italic" fill="#111">IFITM3</text>
<polyline points="105.00,430.30 105.00,428.50 124.70,428.50 124.70,430.30" fill="none" stroke="#3a3a3a" stroke-width="0.9"/>
<text x="115.10" y="429.18" font-size="8.8" text-anchor="middle" font-weight="normal" font-style="normal" fill="#1a1a1a" letter-spacing="0.5">**</text>
<text x="65.40" y="551.80" font-size="9.0" text-anchor="end" font-weight="normal" font-style="normal" fill="#222" transform="rotate(-45 65.40 551.80)">Cas9</text>
<text x="86.75" y="551.80" font-size="9.0" text-anchor="end" font-weight="normal" font-style="normal" fill="#222" transform="rotate(-45 86.75 551.80)">Cas9-shTLR3</text>
<text x="108.10" y="551.80" font-size="9.0" text-anchor="end" font-weight="normal" font-style="normal" fill="#222" transform="rotate(-45 108.10 551.80)">dA11</text>
<text x="129.45" y="551.80" font-size="9.0" text-anchor="end" font-weight="normal" font-style="normal" fill="#222" transform="rotate(-45 129.45 551.80)">dA11-shTLR3</text>
<line x1="159.50" y1="432.90" x2="159.50" y2="547.00" stroke="#4a4a4a" stroke-width="1.0"/>
<line x1="157.20" y1="545.80" x2="159.00" y2="545.80" stroke="#888888" stroke-width="0.8"/>
<text x="155.80" y="549.06" font-size="9.1" text-anchor="end" font-weight="normal" font-style="normal" fill="#222">0</text>
<line x1="157.20" y1="516.61" x2="159.00" y2="516.61" stroke="#888888" stroke-width="0.8"/>
<text x="155.80" y="519.87" font-size="9.1" text-anchor="end" font-weight="normal" font-style="normal" fill="#222">30</text>
<line x1="157.20" y1="487.42" x2="159.00" y2="487.42" stroke="#888888" stroke-width="0.8"/>
<text x="155.80" y="490.68" font-size="9.1" text-anchor="end" font-weight="normal" font-style="normal" fill="#222">60</text>
<line x1="157.20" y1="458.23" x2="159.00" y2="458.23" stroke="#888888" stroke-width="0.8"/>
<text x="155.80" y="461.49" font-size="9.1" text-anchor="end" font-weight="normal" font-style="normal" fill="#222">90</text>
<rect x="163.45" y="544.83" width="6.70" height="1.67" fill="#F9A93B"/>
<circle cx="164.88" cy="545.73" r="0.85" fill="#111"/>
<circle cx="166.80" cy="545.73" r="0.85" fill="#111"/>
<circle cx="168.72" cy="545.73" r="0.85" fill="#111"/>
<rect x="171.25" y="543.85" width="6.70" height="2.65" fill="#38AFBF"/>
<circle cx="172.68" cy="544.75" r="0.85" fill="#111"/>
<circle cx="174.60" cy="544.75" r="0.85" fill="#111"/>
<circle cx="176.52" cy="544.75" r="0.85" fill="#111"/>
<rect x="183.00" y="544.34" width="6.70" height="2.16" fill="#F9A93B"/>
<circle cx="184.43" cy="545.24" r="0.85" fill="#111"/>
<circle cx="186.35" cy="545.24" r="0.85" fill="#111"/>
<circle cx="188.27" cy="545.24" r="0.85" fill="#111"/>
<rect x="190.80" y="544.34" width="6.70" height="2.16" fill="#38AFBF"/>
<circle cx="192.23" cy="545.24" r="0.85" fill="#111"/>
<circle cx="194.15" cy="545.24" r="0.85" fill="#111"/>
<circle cx="196.07" cy="545.24" r="0.85" fill="#111"/>
<rect x="202.55" y="539.09" width="6.70" height="7.41" fill="#F9A93B"/>
<line x1="205.50" y1="539.09" x2="205.50" y2="535.00" stroke="#333" stroke-width="0.95"/>
<line x1="204.60" y1="535.00" x2="206.40" y2="535.00" stroke="#333" stroke-width="0.95"/>
<circle cx="205.90" cy="535.00" r="1.05" fill="#111"/>
<circle cx="205.90" cy="539.00" r="1.05" fill="#111"/>
<rect x="210.35" y="456.28" width="6.70" height="90.22" fill="#38AFBF"/>
<line x1="213.50" y1="456.28" x2="213.50" y2="439.90" stroke="#333" stroke-width="0.95"/>
<line x1="212.60" y1="439.90" x2="214.40" y2="439.90" stroke="#333" stroke-width="0.95"/>
<circle cx="213.70" cy="434.40" r="1.05" fill="#111"/>
<circle cx="213.70" cy="446.00" r="1.05" fill="#111"/>
<circle cx="213.70" cy="488.70" r="1.05" fill="#111"/>
<rect x="222.10" y="538.21" width="6.70" height="8.29" fill="#F9A93B"/>
<line x1="225.50" y1="538.21" x2="225.50" y2="533.50" stroke="#333" stroke-width="0.95"/>
<line x1="224.60" y1="533.50" x2="226.40" y2="533.50" stroke="#333" stroke-width="0.95"/>
<circle cx="225.45" cy="533.50" r="1.05" fill="#111"/>
<circle cx="225.45" cy="538.50" r="1.05" fill="#111"/>
<rect x="229.90" y="526.92" width="6.70" height="19.58" fill="#38AFBF"/>
<line x1="233.50" y1="526.92" x2="233.50" y2="522.80" stroke="#333" stroke-width="0.95"/>
<line x1="232.60" y1="522.80" x2="234.40" y2="522.80" stroke="#333" stroke-width="0.95"/>
<circle cx="233.25" cy="516.70" r="1.05" fill="#111"/>
<circle cx="233.25" cy="531.40" r="1.05" fill="#111"/>
<line x1="159.00" y1="546.50" x2="241.60" y2="546.50" stroke="#4a4a4a" stroke-width="1.0"/>
<text x="189.00" y="425.00" font-size="9.5" text-anchor="start" font-weight="bold" font-style="italic" fill="#111">IFNB</text>
<polyline points="213.40,431.30 213.40,429.50 233.30,429.50 233.30,431.30" fill="none" stroke="#3a3a3a" stroke-width="0.9"/>
<text x="223.60" y="429.88" font-size="8.8" text-anchor="middle" font-weight="normal" font-style="normal" fill="#1a1a1a" letter-spacing="0.5">**</text>
<text x="174.70" y="551.80" font-size="9.0" text-anchor="end" font-weight="normal" font-style="normal" fill="#222" transform="rotate(-45 174.70 551.80)">Cas9</text>
<text x="196.05" y="551.80" font-size="9.0" text-anchor="end" font-weight="normal" font-style="normal" fill="#222" transform="rotate(-45 196.05 551.80)">Cas9-shTLR3</text>
<text x="217.40" y="551.80" font-size="9.0" text-anchor="end" font-weight="normal" font-style="normal" fill="#222" transform="rotate(-45 217.40 551.80)">dA11</text>
<text x="238.75" y="551.80" font-size="9.0" text-anchor="end" font-weight="normal" font-style="normal" fill="#222" transform="rotate(-45 238.75 551.80)">dA11-shTLR3</text>
<line x1="271.50" y1="432.90" x2="271.50" y2="547.00" stroke="#4a4a4a" stroke-width="1.0"/>
<line x1="269.20" y1="545.80" x2="271.00" y2="545.80" stroke="#888888" stroke-width="0.8"/>
<text x="268.10" y="549.06" font-size="9.1" text-anchor="end" font-weight="normal" font-style="normal" fill="#222">0</text>
<line x1="269.20" y1="517.10" x2="271.00" y2="517.10" stroke="#888888" stroke-width="0.8"/>
<text x="268.10" y="520.36" font-size="9.1" text-anchor="end" font-weight="normal" font-style="normal" fill="#222">250</text>
<line x1="269.20" y1="488.40" x2="271.00" y2="488.40" stroke="#888888" stroke-width="0.8"/>
<text x="268.10" y="491.66" font-size="9.1" text-anchor="end" font-weight="normal" font-style="normal" fill="#222">500</text>
<line x1="269.20" y1="459.70" x2="271.00" y2="459.70" stroke="#888888" stroke-width="0.8"/>
<text x="268.10" y="462.96" font-size="9.1" text-anchor="end" font-weight="normal" font-style="normal" fill="#222">750</text>
<rect x="274.95" y="545.23" width="6.70" height="1.27" fill="#F9A93B"/>
<circle cx="276.38" cy="546.13" r="0.85" fill="#111"/>
<circle cx="278.30" cy="546.13" r="0.85" fill="#111"/>
<circle cx="280.22" cy="546.13" r="0.85" fill="#111"/>
<rect x="283.75" y="545.23" width="6.70" height="1.27" fill="#38AFBF"/>
<circle cx="285.18" cy="546.13" r="0.85" fill="#111"/>
<circle cx="287.10" cy="546.13" r="0.85" fill="#111"/>
<circle cx="289.02" cy="546.13" r="0.85" fill="#111"/>
<rect x="294.50" y="545.23" width="6.70" height="1.27" fill="#F9A93B"/>
<circle cx="295.93" cy="546.13" r="0.85" fill="#111"/>
<circle cx="297.85" cy="546.13" r="0.85" fill="#111"/>
<circle cx="299.77" cy="546.13" r="0.85" fill="#111"/>
<rect x="303.30" y="545.23" width="6.70" height="1.27" fill="#38AFBF"/>
<circle cx="304.73" cy="546.13" r="0.85" fill="#111"/>
<circle cx="306.65" cy="546.13" r="0.85" fill="#111"/>
<circle cx="308.57" cy="546.13" r="0.85" fill="#111"/>
<rect x="314.05" y="545.23" width="6.70" height="1.27" fill="#F9A93B"/>
<circle cx="315.48" cy="546.13" r="0.85" fill="#111"/>
<circle cx="317.40" cy="546.13" r="0.85" fill="#111"/>
<circle cx="319.32" cy="546.13" r="0.85" fill="#111"/>
<rect x="322.85" y="486.68" width="6.70" height="59.82" fill="#38AFBF"/>
<line x1="326.50" y1="486.68" x2="326.50" y2="460.30" stroke="#333" stroke-width="0.95"/>
<line x1="325.60" y1="460.30" x2="327.40" y2="460.30" stroke="#333" stroke-width="0.95"/>
<circle cx="326.20" cy="434.40" r="1.05" fill="#111"/>
<circle cx="326.20" cy="500.00" r="1.05" fill="#111"/>
<circle cx="326.20" cy="524.40" r="1.05" fill="#111"/>
<rect x="333.60" y="545.23" width="6.70" height="1.27" fill="#F9A93B"/>
<circle cx="335.03" cy="546.13" r="0.85" fill="#111"/>
<circle cx="336.95" cy="546.13" r="0.85" fill="#111"/>
<circle cx="338.87" cy="546.13" r="0.85" fill="#111"/>
<rect x="342.40" y="540.63" width="6.70" height="5.87" fill="#38AFBF"/>
<line x1="345.50" y1="540.63" x2="345.50" y2="535.00" stroke="#333" stroke-width="0.95"/>
<line x1="344.60" y1="535.00" x2="346.40" y2="535.00" stroke="#333" stroke-width="0.95"/>
<circle cx="345.75" cy="535.00" r="1.05" fill="#111"/>
<circle cx="345.75" cy="541.00" r="1.05" fill="#111"/>
<line x1="271.00" y1="546.50" x2="353.60" y2="546.50" stroke="#4a4a4a" stroke-width="1.0"/>
<text x="264.40" y="425.00" font-size="9.5" text-anchor="start" font-weight="bold" font-style="italic" fill="#111">IFNL1</text>
<polyline points="327.00,431.30 327.00,429.50 346.70,429.50 346.70,431.30" fill="none" stroke="#3a3a3a" stroke-width="0.9"/>
<text x="336.85" y="429.88" font-size="8.8" text-anchor="middle" font-weight="normal" font-style="normal" fill="#1a1a1a">*</text>
<text x="285.10" y="551.80" font-size="9.0" text-anchor="end" font-weight="normal" font-style="normal" fill="#222" transform="rotate(-45 285.10 551.80)">Cas9</text>
<text x="306.45" y="551.80" font-size="9.0" text-anchor="end" font-weight="normal" font-style="normal" fill="#222" transform="rotate(-45 306.45 551.80)">Cas9-shTLR3</text>
<text x="327.80" y="551.80" font-size="9.0" text-anchor="end" font-weight="normal" font-style="normal" fill="#222" transform="rotate(-45 327.80 551.80)">dA11</text>
<text x="349.15" y="551.80" font-size="9.0" text-anchor="end" font-weight="normal" font-style="normal" fill="#222" transform="rotate(-45 349.15 551.80)">dA11-shTLR3</text>
<line x1="383.50" y1="432.90" x2="383.50" y2="547.00" stroke="#4a4a4a" stroke-width="1.0"/>
<line x1="381.20" y1="545.80" x2="383.00" y2="545.80" stroke="#888888" stroke-width="0.8"/>
<text x="379.90" y="549.06" font-size="9.1" text-anchor="end" font-weight="normal" font-style="normal" fill="#222">0</text>
<line x1="381.20" y1="507.80" x2="383.00" y2="507.80" stroke="#888888" stroke-width="0.8"/>
<text x="379.90" y="511.06" font-size="9.1" text-anchor="end" font-weight="normal" font-style="normal" fill="#222">2,000</text>
<line x1="381.20" y1="469.80" x2="383.00" y2="469.80" stroke="#888888" stroke-width="0.8"/>
<text x="379.90" y="473.06" font-size="9.1" text-anchor="end" font-weight="normal" font-style="normal" fill="#222">4,000</text>
<rect x="387.65" y="545.23" width="6.70" height="1.27" fill="#F9A93B"/>
<circle cx="389.08" cy="546.13" r="0.85" fill="#111"/>
<circle cx="391.00" cy="546.13" r="0.85" fill="#111"/>
<circle cx="392.92" cy="546.13" r="0.85" fill="#111"/>
<rect x="395.05" y="545.23" width="6.70" height="1.27" fill="#38AFBF"/>
<circle cx="396.48" cy="546.13" r="0.85" fill="#111"/>
<circle cx="398.40" cy="546.13" r="0.85" fill="#111"/>
<circle cx="400.32" cy="546.13" r="0.85" fill="#111"/>
<rect x="407.20" y="545.23" width="6.70" height="1.27" fill="#F9A93B"/>
<circle cx="408.63" cy="546.13" r="0.85" fill="#111"/>
<circle cx="410.55" cy="546.13" r="0.85" fill="#111"/>
<circle cx="412.47" cy="546.13" r="0.85" fill="#111"/>
<rect x="414.60" y="545.23" width="6.70" height="1.27" fill="#38AFBF"/>
<circle cx="416.03" cy="546.13" r="0.85" fill="#111"/>
<circle cx="417.95" cy="546.13" r="0.85" fill="#111"/>
<circle cx="419.87" cy="546.13" r="0.85" fill="#111"/>
<rect x="426.75" y="544.28" width="6.70" height="2.22" fill="#F9A93B"/>
<circle cx="428.18" cy="545.18" r="0.85" fill="#111"/>
<circle cx="430.10" cy="545.18" r="0.85" fill="#111"/>
<circle cx="432.02" cy="545.18" r="0.85" fill="#111"/>
<rect x="434.15" y="466.00" width="6.70" height="80.50" fill="#38AFBF"/>
<line x1="437.50" y1="466.00" x2="437.50" y2="439.90" stroke="#333" stroke-width="0.95"/>
<line x1="436.60" y1="439.90" x2="438.40" y2="439.90" stroke="#333" stroke-width="0.95"/>
<circle cx="437.50" cy="435.90" r="1.05" fill="#111"/>
<circle cx="437.50" cy="445.10" r="1.05" fill="#111"/>
<circle cx="437.50" cy="515.20" r="1.05" fill="#111"/>
<rect x="446.30" y="544.28" width="6.70" height="2.22" fill="#F9A93B"/>
<circle cx="447.73" cy="545.18" r="0.85" fill="#111"/>
<circle cx="449.65" cy="545.18" r="0.85" fill="#111"/>
<circle cx="451.57" cy="545.18" r="0.85" fill="#111"/>
<rect x="453.70" y="531.36" width="6.70" height="15.14" fill="#38AFBF"/>
<line x1="457.50" y1="531.36" x2="457.50" y2="524.40" stroke="#333" stroke-width="0.95"/>
<line x1="456.60" y1="524.40" x2="458.40" y2="524.40" stroke="#333" stroke-width="0.95"/>
<circle cx="457.05" cy="518.30" r="1.05" fill="#111"/>
<circle cx="457.05" cy="530.50" r="1.05" fill="#111"/>
<circle cx="457.05" cy="543.60" r="1.05" fill="#111"/>
<line x1="383.00" y1="546.50" x2="465.60" y2="546.50" stroke="#4a4a4a" stroke-width="1.0"/>
<text x="374.80" y="425.00" font-size="9.5" text-anchor="start" font-weight="bold" font-style="italic" fill="#111">OAS1</text>
<polyline points="437.30,432.30 437.30,430.50 457.80,430.50 457.80,432.30" fill="none" stroke="#3a3a3a" stroke-width="0.9"/>
<text x="447.80" y="431.08" font-size="8.8" text-anchor="middle" font-weight="normal" font-style="normal" fill="#1a1a1a" letter-spacing="0.5">**</text>
<text x="395.60" y="551.80" font-size="9.0" text-anchor="end" font-weight="normal" font-style="normal" fill="#222" transform="rotate(-45 395.60 551.80)">Cas9</text>
<text x="416.95" y="551.80" font-size="9.0" text-anchor="end" font-weight="normal" font-style="normal" fill="#222" transform="rotate(-45 416.95 551.80)">Cas9-shTLR3</text>
<text x="438.30" y="551.80" font-size="9.0" text-anchor="end" font-weight="normal" font-style="normal" fill="#222" transform="rotate(-45 438.30 551.80)">dA11</text>
<text x="459.65" y="551.80" font-size="9.0" text-anchor="end" font-weight="normal" font-style="normal" fill="#222" transform="rotate(-45 459.65 551.80)">dA11-shTLR3</text>
<line x1="493.50" y1="432.90" x2="493.50" y2="547.00" stroke="#4a4a4a" stroke-width="1.0"/>
<line x1="491.20" y1="545.80" x2="493.00" y2="545.80" stroke="#888888" stroke-width="0.8"/>
<text x="489.30" y="549.06" font-size="9.1" text-anchor="end" font-weight="normal" font-style="normal" fill="#222">0</text>
<line x1="491.20" y1="523.85" x2="493.00" y2="523.85" stroke="#888888" stroke-width="0.8"/>
<text x="489.30" y="527.11" font-size="9.1" text-anchor="end" font-weight="normal" font-style="normal" fill="#222">25</text>
<line x1="491.20" y1="501.90" x2="493.00" y2="501.90" stroke="#888888" stroke-width="0.8"/>
<text x="489.30" y="505.16" font-size="9.1" text-anchor="end" font-weight="normal" font-style="normal" fill="#222">50</text>
<line x1="491.20" y1="479.95" x2="493.00" y2="479.95" stroke="#888888" stroke-width="0.8"/>
<text x="489.30" y="483.21" font-size="9.1" text-anchor="end" font-weight="normal" font-style="normal" fill="#222">75</text>
<line x1="491.20" y1="458.00" x2="493.00" y2="458.00" stroke="#888888" stroke-width="0.8"/>
<text x="489.30" y="461.26" font-size="9.1" text-anchor="end" font-weight="normal" font-style="normal" fill="#222">100</text>
<line x1="491.20" y1="436.05" x2="493.00" y2="436.05" stroke="#888888" stroke-width="0.8"/>
<text x="489.30" y="439.31" font-size="9.1" text-anchor="end" font-weight="normal" font-style="normal" fill="#222">125</text>
<rect x="497.65" y="544.92" width="6.70" height="1.58" fill="#F9A93B"/>
<circle cx="499.08" cy="545.82" r="0.85" fill="#111"/>
<circle cx="501.00" cy="545.82" r="0.85" fill="#111"/>
<circle cx="502.92" cy="545.82" r="0.85" fill="#111"/>
<rect x="505.05" y="544.92" width="6.70" height="1.58" fill="#38AFBF"/>
<circle cx="506.48" cy="545.82" r="0.85" fill="#111"/>
<circle cx="508.40" cy="545.82" r="0.85" fill="#111"/>
<circle cx="510.32" cy="545.82" r="0.85" fill="#111"/>
<rect x="517.20" y="544.92" width="6.70" height="1.58" fill="#F9A93B"/>
<circle cx="518.63" cy="545.82" r="0.85" fill="#111"/>
<circle cx="520.55" cy="545.82" r="0.85" fill="#111"/>
<circle cx="522.47" cy="545.82" r="0.85" fill="#111"/>
<rect x="524.60" y="544.92" width="6.70" height="1.58" fill="#38AFBF"/>
<circle cx="526.03" cy="545.82" r="0.85" fill="#111"/>
<circle cx="527.95" cy="545.82" r="0.85" fill="#111"/>
<circle cx="529.87" cy="545.82" r="0.85" fill="#111"/>
<rect x="536.75" y="510.15" width="6.70" height="36.35" fill="#F9A93B"/>
<circle cx="540.10" cy="505.20" r="1.05" fill="#111"/>
<circle cx="540.10" cy="510.60" r="1.05" fill="#111"/>
<circle cx="540.10" cy="513.70" r="1.05" fill="#111"/>
<rect x="544.15" y="498.56" width="6.70" height="47.94" fill="#38AFBF"/>
<circle cx="547.50" cy="498.60" r="1.05" fill="#111"/>
<circle cx="547.50" cy="499.00" r="1.05" fill="#111"/>
<rect x="556.30" y="458.88" width="6.70" height="87.62" fill="#F9A93B"/>
<line x1="559.50" y1="458.88" x2="559.50" y2="446.60" stroke="#333" stroke-width="0.95"/>
<line x1="558.60" y1="446.60" x2="560.40" y2="446.60" stroke="#333" stroke-width="0.95"/>
<circle cx="559.65" cy="434.40" r="1.05" fill="#111"/>
<circle cx="559.65" cy="467.30" r="1.05" fill="#111"/>
<circle cx="559.65" cy="474.00" r="1.05" fill="#111"/>
<rect x="563.70" y="466.78" width="6.70" height="79.72" fill="#38AFBF"/>
<line x1="567.50" y1="466.78" x2="567.50" y2="454.20" stroke="#333" stroke-width="0.95"/>
<line x1="566.60" y1="454.20" x2="568.40" y2="454.20" stroke="#333" stroke-width="0.95"/>
<circle cx="567.05" cy="444.20" r="1.05" fill="#111"/>
<circle cx="567.05" cy="467.90" r="1.05" fill="#111"/>
<circle cx="567.05" cy="486.20" r="1.05" fill="#111"/>
<line x1="493.00" y1="546.50" x2="575.60" y2="546.50" stroke="#4a4a4a" stroke-width="1.0"/>
<text x="481.80" y="425.00" font-size="9.5" text-anchor="start" font-weight="bold" font-style="italic" fill="#111">S100A9</text>
<polyline points="548.00,431.30 548.00,429.50 567.20,429.50 567.20,431.30" fill="none" stroke="#3a3a3a" stroke-width="0.9"/>
<text x="557.60" y="430.18" font-size="8.8" text-anchor="middle" font-weight="normal" font-style="normal" fill="#1a1a1a">*</text>
<text x="505.60" y="551.80" font-size="9.0" text-anchor="end" font-weight="normal" font-style="normal" fill="#222" transform="rotate(-45 505.60 551.80)">Cas9</text>
<text x="526.95" y="551.80" font-size="9.0" text-anchor="end" font-weight="normal" font-style="normal" fill="#222" transform="rotate(-45 526.95 551.80)">Cas9-shTLR3</text>
<text x="548.30" y="551.80" font-size="9.0" text-anchor="end" font-weight="normal" font-style="normal" fill="#222" transform="rotate(-45 548.30 551.80)">dA11</text>
<text x="569.65" y="551.80" font-size="9.0" text-anchor="end" font-weight="normal" font-style="normal" fill="#222" transform="rotate(-45 569.65 551.80)">dA11-shTLR3</text>
</svg>
</body></html>
